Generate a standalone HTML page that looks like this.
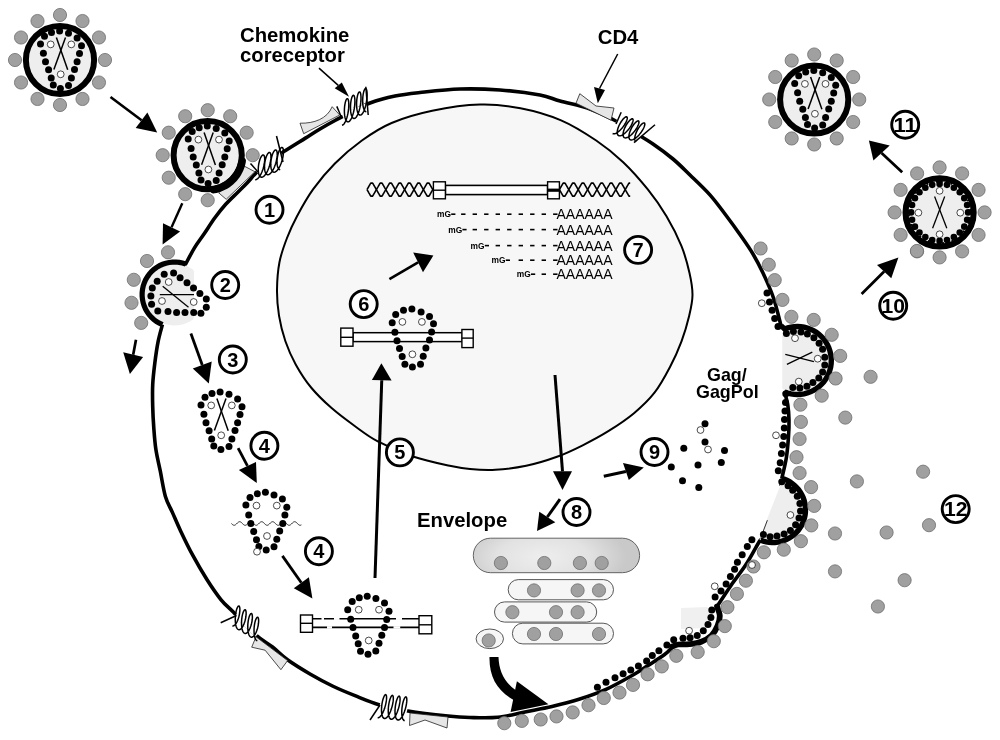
<!DOCTYPE html>
<html><head><meta charset="utf-8"><style>
html,body{margin:0;padding:0;background:#fff;}
svg{display:block;font-family:"Liberation Sans",sans-serif;filter:grayscale(1);}
</style></head><body>
<svg width="1000" height="740" viewBox="0 0 1000 740">
<rect width="1000" height="740" fill="#fff"/>
<path d="M480,104.6 C494.72,104.17 506.98,105.58 520.5,108.2 C534.02,110.82 548.48,114.92 561.1,120.3 C573.72,125.68 585.85,133.52 596.2,140.5 C606.55,147.48 614.63,154.08 623.2,162.2 C631.77,170.32 640.38,180.2 647.6,189.2 C654.82,198.2 660.87,206.75 666.5,216.2 C672.13,225.65 677.57,236.43 681.4,245.9 C685.23,255.37 687.65,264.82 689.5,273 C691.35,281.18 692.55,287.88 692.5,295 C692.45,302.12 691.03,307.98 689.2,315.7 C687.37,323.42 684.7,332.75 681.5,341.3 C678.3,349.85 674.5,358.43 670,367 C665.5,375.57 660.5,385 654.5,392.7 C648.5,400.4 641.7,406.78 634,413.2 C626.3,419.62 616.85,425.85 608.3,431.2 C599.75,436.55 591.25,441.03 582.7,445.3 C574.15,449.57 566.42,453.38 557,456.8 C547.58,460.22 536.47,463.65 526.2,465.8 C515.93,467.95 504.77,469.17 495.4,469.7 C486.03,470.23 477.62,469.65 470,469 C462.38,468.35 459.08,467.83 449.7,465.8 C440.32,463.77 425.68,460.87 413.7,456.8 C401.72,452.73 387.63,446.53 377.8,441.4 C367.97,436.27 362.4,431.55 354.7,426 C347,420.45 338.87,414.52 331.6,408.1 C324.33,401.68 317.08,394.78 311.1,387.5 C305.12,380.22 299.98,372.1 295.7,364.4 C291.42,356.7 288.18,349.42 285.4,341.3 C282.62,333.18 280.4,324.25 279,315.7 C277.6,307.15 276.92,298.95 277,290 C277.08,281.05 277.83,270.67 279.5,262 C281.17,253.33 284.08,245.63 287,238 C289.92,230.37 292.63,224.33 297,216.2 C301.37,208.07 306.88,197.98 313.2,189.2 C319.52,180.42 326.78,171.62 334.9,163.5 C343.02,155.38 352.45,147.25 361.9,140.5 C371.35,133.75 379.88,127.95 391.6,123 C403.32,118.05 417.47,113.87 432.2,110.8 C446.93,107.73 465.28,105.03 480,104.6Z" fill="#f7f7f7" stroke="#000" stroke-width="2"/>
<path d="M782.28,332.25 L787.32,330.1 L792.66,328.84 L798.14,328.51 L803.59,329.12 L808.85,330.66 L813.78,333.07 L818.22,336.29 L822.05,340.22 L825.15,344.74 L827.43,349.73 L828.83,355.03 L829.3,360.5 L828.83,365.97 L827.43,371.27 L825.15,376.26 L822.05,380.78 L818.22,384.71 L813.78,387.93 L808.85,390.34 L803.59,391.88 L798.14,392.49 L792.66,392.16 L787.32,390.9 L782.28,388.75 Z" fill="#eeeeee"/>
<path d="M782.38,480.32 L786.29,481.89 L789.95,483.97 L793.29,486.54 L796.26,489.53 L798.79,492.9 L800.84,496.58 L802.37,500.5 L803.36,504.59 L803.78,508.79 L803.63,513 L802.92,517.15 L801.64,521.16 L799.84,524.97 L797.53,528.49 L794.77,531.67 L791.6,534.45 L788.08,536.77 L784.29,538.59 L780.28,539.88 L776.13,540.62 L771.92,540.79 L767.73,540.38 L763.63,539.41 L759.7,537.9 Z" fill="#eeeeee"/>
<path d="M681,608 L707,607 L714,614 L708,628 L681,629 Z" fill="#f0f0f0"/>
<path d="M194,294.5 L194,297.74 L194,300.95 L194,304.08 L194,307.11 L194,310 L194,312.72 L194,315.24 L194,317.54 L192.82,319.58 L190.1,321.35 L187.21,322.82 L184.18,323.98 L181.05,324.82 L177.84,325.33 L174.6,325.5 L171.36,325.33 L168.15,324.82 L165.02,323.98 L161.99,322.82 L159.1,321.35 L156.38,319.58 L153.86,317.54 L151.56,315.24 L149.52,312.72 L147.75,310 L146.28,307.11 L145.12,304.08 L144.28,300.95 L143.77,297.74 L143.6,294.5 L143.77,291.26 L144.28,288.05 L145.12,284.92 L146.28,281.89 L147.75,279 L149.52,276.28 L151.56,273.76 L153.86,271.46 L156.38,269.42 L159.1,267.65 L161.99,266.18 L165.02,265.02 L168.15,264.18 L171.36,263.67 L174.6,263.5 L177.84,263.67 L181.05,264.18 L184.18,265.02 L187.21,266.18 L190.1,267.65 L192.82,269.42 L194,271.46 L194,273.76 L194,276.28 L194,279 L194,281.89 L194,284.92 L194,288.05 L194,291.26 L194,294.5 Z" fill="#eeeeee"/>
<path d="M185.72,263.96 C187.2,261.23 191.55,252.59 194.6,247.6 C197.65,242.61 200.62,238.97 204,234 C207.38,229.03 211.28,222.75 214.9,217.8 C218.52,212.85 221.88,208.57 225.7,204.3 C229.52,200.03 234.2,195.8 237.8,192.2 C241.4,188.6 244.1,186.07 247.3,182.7 C250.5,179.33 253.22,175.62 257,172 C260.78,168.38 265.53,164.4 270,161 C274.47,157.6 277.9,155.42 283.8,151.6 C289.7,147.78 299.37,141.87 305.4,138.1 C311.43,134.33 315.07,131.93 320,129 C324.93,126.07 329.67,123.33 335,120.5 C340.33,117.67 346.17,114.92 352,112 C357.83,109.08 362.83,105.67 370,103 C377.17,100.33 386.67,97.75 395,96 C403.33,94.25 409.17,93.67 420,92.5 C430.83,91.33 446.67,89.42 460,89 C473.33,88.58 486.67,89 500,90 C513.33,91 530,93.17 540,95 C550,96.83 551.67,98.67 560,101 C568.33,103.33 581,105.83 590,109 C599,112.17 607,116.33 614,120 C621,123.67 625.5,127 632,131 C638.5,135 646.17,139.33 653,144 C659.83,148.67 666.83,153.83 673,159 C679.17,164.17 683.88,169.07 690,175 C696.12,180.93 703.87,188.1 709.7,194.6 C715.53,201.1 719.78,207.1 725,214 C730.22,220.9 736.33,229.33 741,236 C745.67,242.67 749.33,247.83 753,254 C756.67,260.17 759.58,265.67 763,273 C766.42,280.33 770.5,289.23 773.5,298 C776.5,306.77 779.75,321 781,325.6" fill="none" stroke="#000" stroke-width="3.6" stroke-linecap="round"/>
<path d="M784.56,392.02 C785.1,394.19 787.06,400.34 787.8,405 C788.54,409.66 788.88,414.75 789,420 C789.12,425.25 788.95,430.17 788.5,436.5 C788.05,442.83 787.41,451.02 786.3,458 C785.19,464.98 782.56,474.97 781.81,478.37" fill="none" stroke="#000" stroke-width="3.6"/>
<path d="M760.55,540.12 C760.29,540.43 761.43,537.92 759,542 C756.57,546.08 750.67,557.37 746,564.6 C741.33,571.83 735.83,578.42 731,585.4 C726.17,592.38 719.33,602.98 717,606.5" fill="none" stroke="#000" stroke-width="3.6"/>
<path d="M717,606.5 C717.47,608.08 719.72,612.75 719.8,616 C719.88,619.25 718.88,622.75 717.5,626 C716.12,629.25 714.2,632.88 711.5,635.5 C708.8,638.12 705.02,640.27 701.3,641.7 C697.58,643.13 693.05,643.63 689.2,644.1 C685.35,644.57 681.03,644.08 678.2,644.5 C675.37,644.92 673.2,646.25 672.2,646.6" fill="none" stroke="#000" stroke-width="5.8" stroke-linecap="round"/>
<path d="M672,647.5 C670.77,648.67 668.67,651.45 664.6,654.5 C660.53,657.55 652.87,662.38 647.6,665.8 C642.33,669.22 639.93,671.07 633,675 C626.07,678.93 615,685.35 606,689.4 C597,693.45 588,696.45 579,699.3 C570,702.15 561,704.4 552,706.5 C543,708.6 534,710.1 525,711.9 C516,713.7 507.17,716.37 498,717.3 C488.83,718.23 478.33,717.72 470,717.5 C461.67,717.28 458.33,717.08 448,716 C437.67,714.92 419.5,712.88 408,711 C396.5,709.12 387.83,707.25 379,704.7 C370.17,702.15 362.75,698.82 355,695.7 C347.25,692.58 340,689.62 332.5,686 C325,682.38 317.5,678.37 310,674 C302.5,669.63 293.75,664.3 287.5,659.8 C281.25,655.3 277.75,651.13 272.5,647 C267.25,642.87 262.53,640.83 256,635 C249.47,629.17 239.12,617.87 233.3,612 C227.48,606.13 225.5,605.22 221.1,599.8 C216.7,594.38 211.63,586.93 206.9,579.5 C202.17,572.07 197.08,563.3 192.7,555.2 C188.32,547.1 183.97,538 180.6,530.9 C177.23,523.8 175.03,518.35 172.5,512.6 C169.97,506.85 167.43,503.3 165.4,496.4 C163.37,489.5 161.88,479 160.3,471.2 C158.72,463.4 156.98,456.8 155.9,449.6 C154.82,442.4 154.33,435.2 153.8,428 C153.27,420.8 152.88,413.6 152.7,406.4 C152.52,399.2 152.35,392 152.7,384.8 C153.05,377.6 153.9,370.4 154.8,363.2 C155.7,356 156.83,348.03 158.1,341.6 C159.37,335.17 161.7,327.46 162.43,324.63" fill="none" stroke="#000" stroke-width="3.6"/>
<line x1="779.5" y1="485.7" x2="783" y2="476.5" stroke="#000" stroke-width="0.8" />
<line x1="767.4" y1="520.2" x2="762.2" y2="534" stroke="#000" stroke-width="0.8" />
<path d="M781,325.6 L784.56,328.98 784.56,328.98 L787.7,327.88 L790.93,327.1 L794.22,326.64 L797.54,326.5 L800.85,326.69 L804.14,327.19 L807.35,328.02 L810.48,329.16 L813.47,330.59 L816.31,332.31 L818.97,334.3 L821.43,336.54 L823.65,339.01 L825.62,341.68 L827.32,344.54 L828.73,347.54 L829.85,350.67 L830.65,353.9 L831.14,357.18 L831.3,360.5 L831.14,363.82 L830.65,367.1 L829.85,370.33 L828.73,373.46 L827.32,376.46 L825.62,379.32 L823.65,381.99 L821.43,384.46 L818.97,386.7 L816.31,388.69 L813.47,390.41 L810.48,391.84 L807.35,392.98 L804.14,393.81 L800.85,394.31 L797.54,394.5 L794.22,394.36 L790.93,393.9 L787.7,393.12 L784.56,392.02" fill="none" stroke="#000" stroke-width="5.4"/>
<path d="M781.81,478.37 L784.61,479.31 L787.31,480.49 L789.89,481.92 L792.33,483.57 L794.61,485.44 L796.72,487.5 L798.63,489.74 L800.33,492.15 L801.81,494.7 L803.05,497.37 L804.04,500.15 L804.79,503 L805.27,505.91 L805.49,508.85 L805.44,511.8 L805.13,514.73 L804.55,517.62 L803.72,520.45 L802.63,523.19 L801.31,525.82 L799.75,528.32 L797.97,530.67 L795.99,532.86 L793.82,534.85 L791.48,536.64 L788.98,538.21 L786.36,539.56 L783.63,540.66 L780.8,541.51 L777.92,542.1 L774.99,542.43 L772.04,542.49 L769.1,542.29 L766.19,541.82 L763.33,541.1 L760.55,540.12" fill="none" stroke="#000" stroke-width="5.4"/>
<path d="M185.72,263.96 L182.5,262.97 L179.2,262.33 L175.85,262.02 L172.48,262.07 L169.14,262.46 L165.86,263.2 L162.67,264.27 L159.61,265.66 L156.71,267.37 L154,269.36 L151.51,271.63 L149.27,274.14 L147.3,276.86 L145.63,279.78 L144.26,282.85 L143.22,286.05 L142.51,289.34 L142.15,292.69 L142.14,296.05 L142.47,299.4 L143.15,302.69 L144.16,305.9 L145.51,308.98 L147.16,311.91 L149.11,314.66 L151.33,317.18 L153.8,319.47 L156.49,321.49 L159.38,323.21 L162.43,324.63" fill="none" stroke="#000" stroke-width="5.2"/>
<polygon points="244.6,166.3 254.9,171.7 226.2,199.3 218.7,192.8 233,181" fill="#e6e6e6" stroke="#222" stroke-width="0.8"/>
<path d="M300,123.2 C314,123.5 327,119 332.2,106.7 L339.7,115 L303.7,133.7 Z" fill="#e6e6e6" stroke="#222" stroke-width="0.8"/>
<polygon points="576,103.2 579.8,93.7 596,106 614,108 611,120.2" fill="#e6e6e6" stroke="#222" stroke-width="0.8"/>
<polygon points="256,636.8 251.7,647.2 265.1,650.2 280.9,669.7 287.6,660.6" fill="#e6e6e6" stroke="#222" stroke-width="0.8"/>
<polygon points="410,713 409.5,725.5 425,720 447,728 448,717" fill="#e6e6e6" stroke="#222" stroke-width="0.8"/>
<line x1="257" y1="172" x2="281" y2="153" stroke="#fff" stroke-width="6"/>
<path d="M255.21,179.7 L255.87,179.66 L256.57,179.42 L257.29,178.98 L258.03,178.35 L258.77,177.54 L259.51,176.56 L260.23,175.43 L260.92,174.16 L261.58,172.79 L262.19,171.32 L262.75,169.79 L263.25,168.21 L263.69,166.62 L264.05,165.04 L264.33,163.5 L264.54,162.03 L264.67,160.64 L264.71,159.36 L264.68,158.21 L264.58,157.22 L264.4,156.38 L264.15,155.73 L263.85,155.27 L263.49,155.01 L263.09,154.94 L262.65,155.08 L262.19,155.41 L261.71,155.94 L261.23,156.65 L260.75,157.52 L260.29,158.55 L259.86,159.71 L259.46,160.98 L259.11,162.34 L258.81,163.77 L258.57,165.24 L258.39,166.73 L258.29,168.2 L258.27,169.64 L258.32,171.01 L258.45,172.29 L258.67,173.47 L258.96,174.51 L259.33,175.4 L259.77,176.13 L260.27,176.68 L260.84,177.04 L261.46,177.2 L262.12,177.16 L262.82,176.92 L263.54,176.48 L264.28,175.85 L265.02,175.04 L265.76,174.06 L266.48,172.93 L267.17,171.66 L267.83,170.29 L268.44,168.82 L269,167.29 L269.5,165.71 L269.94,164.12 L270.3,162.54 L270.58,161 L270.79,159.53 L270.92,158.14 L270.96,156.86 L270.93,155.71 L270.83,154.72 L270.65,153.88 L270.4,153.23 L270.1,152.77 L269.74,152.51 L269.34,152.44 L268.9,152.58 L268.44,152.91 L267.96,153.44 L267.48,154.15 L267,155.02 L266.54,156.05 L266.11,157.21 L265.71,158.48 L265.36,159.84 L265.06,161.27 L264.82,162.74 L264.64,164.23 L264.54,165.7 L264.52,167.14 L264.57,168.51 L264.7,169.79 L264.92,170.97 L265.21,172.01 L265.58,172.9 L266.02,173.63 L266.52,174.18 L267.09,174.54 L267.71,174.7 L268.37,174.66 L269.07,174.42 L269.79,173.98 L270.53,173.35 L271.27,172.54 L272.01,171.56 L272.73,170.43 L273.42,169.16 L274.08,167.79 L274.69,166.32 L275.25,164.79 L275.75,163.21 L276.19,161.62 L276.55,160.04 L276.83,158.5 L277.04,157.03 L277.17,155.64 L277.21,154.36 L277.18,153.21 L277.08,152.22 L276.9,151.38 L276.65,150.73 L276.35,150.27 L275.99,150.01 L275.59,149.94 L275.15,150.08 L274.69,150.41 L274.21,150.94 L273.73,151.65 L273.25,152.52 L272.79,153.55 L272.36,154.71 L271.96,155.98 L271.61,157.34 L271.31,158.77 L271.07,160.24 L270.89,161.73 L270.79,163.2 L270.77,164.64 L270.82,166.01 L270.95,167.29 L271.17,168.47 L271.46,169.51 L271.83,170.4 L272.27,171.13 L272.77,171.68 L273.34,172.04 L273.96,172.2 L274.62,172.16 L275.32,171.92 L276.04,171.48 L276.78,170.85 L277.52,170.04 L278.26,169.06 L278.98,167.93 L279.67,166.66 L280.33,165.29 L280.94,163.82 L281.5,162.29 L282,160.71 L282.44,159.12 L282.8,157.54 L283.08,156 L283.29,154.53 L283.42,153.14 L283.46,151.86 L283.43,150.71 L283.33,149.72 L283.15,148.88 L282.9,148.23 L282.6,147.77 L282.24,147.51 L281.84,147.44 L281.4,147.58 L280.94,147.91 L280.46,148.44 L279.98,149.15 L279.5,150.02 L279.04,151.05 L278.61,152.21 L278.21,153.48 L277.86,154.84 L277.56,156.27 L277.32,157.74 L277.14,159.23 L277.04,160.7 L277.02,162.14 L277.07,163.51 L277.2,164.79 L277.42,165.97 L277.71,167.01 L278.08,167.9 L278.52,168.63 L279.02,169.18 L279.59,169.54 L280.21,169.7" fill="none" stroke="#000" stroke-width="1.5" stroke-linejoin="round"/>
<line x1="250.5" y1="163.5" x2="258" y2="172" stroke="#000" stroke-width="1.5" />
<line x1="276.5" y1="136" x2="283" y2="162" stroke="#000" stroke-width="1.5" />
<line x1="343" y1="117" x2="367" y2="106" stroke="#fff" stroke-width="6"/>
<path d="M341.96,125.24 L342.54,125.11 L343.13,124.76 L343.73,124.21 L344.32,123.46 L344.91,122.52 L345.48,121.41 L346.02,120.15 L346.52,118.75 L346.99,117.24 L347.42,115.64 L347.79,113.99 L348.11,112.29 L348.37,110.6 L348.57,108.92 L348.71,107.3 L348.79,105.75 L348.8,104.3 L348.76,102.98 L348.66,101.8 L348.51,100.79 L348.31,99.96 L348.07,99.33 L347.8,98.9 L347.49,98.67 L347.17,98.67 L346.83,98.87 L346.49,99.28 L346.14,99.89 L345.81,100.69 L345.5,101.66 L345.21,102.78 L344.96,104.04 L344.74,105.41 L344.57,106.86 L344.46,108.38 L344.39,109.93 L344.39,111.49 L344.44,113.02 L344.55,114.51 L344.73,115.91 L344.97,117.22 L345.27,118.4 L345.62,119.44 L346.02,120.31 L346.47,121 L346.97,121.49 L347.5,121.78 L348.06,121.86 L348.64,121.73 L349.23,121.39 L349.83,120.83 L350.42,120.08 L351.01,119.15 L351.58,118.04 L352.12,116.77 L352.62,115.37 L353.09,113.86 L353.52,112.27 L353.89,110.61 L354.21,108.92 L354.47,107.22 L354.67,105.55 L354.81,103.92 L354.89,102.37 L354.9,100.93 L354.86,99.6 L354.76,98.43 L354.61,97.42 L354.41,96.59 L354.17,95.95 L353.9,95.52 L353.59,95.3 L353.27,95.29 L352.93,95.5 L352.59,95.91 L352.24,96.52 L351.91,97.31 L351.6,98.28 L351.31,99.41 L351.06,100.66 L350.84,102.03 L350.67,103.49 L350.56,105.01 L350.49,106.56 L350.49,108.11 L350.54,109.65 L350.65,111.13 L350.83,112.54 L351.07,113.85 L351.37,115.03 L351.72,116.06 L352.12,116.93 L352.57,117.62 L353.07,118.12 L353.6,118.41 L354.16,118.49 L354.74,118.36 L355.33,118.01 L355.93,117.46 L356.52,116.71 L357.11,115.77 L357.68,114.66 L358.22,113.4 L358.72,112 L359.19,110.49 L359.62,108.89 L359.99,107.24 L360.31,105.54 L360.57,103.85 L360.77,102.17 L360.91,100.55 L360.99,99 L361,97.55 L360.96,96.23 L360.86,95.05 L360.71,94.04 L360.51,93.21 L360.27,92.58 L360,92.15 L359.69,91.92 L359.37,91.92 L359.03,92.12 L358.69,92.53 L358.34,93.14 L358.01,93.94 L357.7,94.91 L357.41,96.03 L357.16,97.29 L356.94,98.66 L356.77,100.11 L356.66,101.63 L356.59,103.18 L356.59,104.74 L356.64,106.27 L356.75,107.76 L356.93,109.16 L357.17,110.47 L357.47,111.65 L357.82,112.69 L358.22,113.56 L358.67,114.25 L359.17,114.74 L359.7,115.03 L360.26,115.11 L360.84,114.98 L361.43,114.64 L362.03,114.08 L362.62,113.33 L363.21,112.4 L363.78,111.29 L364.32,110.02 L364.82,108.62 L365.29,107.11 L365.72,105.52 L366.09,103.86 L366.41,102.17 L366.67,100.47 L366.87,98.8 L367.01,97.17 L367.09,95.62 L367.1,94.18 L367.06,92.85 L366.96,91.68 L366.81,90.67 L366.61,89.84 L366.37,89.2 L366.1,88.77 L365.79,88.55 L365.47,88.54 L365.13,88.75 L364.79,89.16 L364.44,89.77 L364.11,90.56 L363.8,91.53 L363.51,92.66 L363.26,93.91 L363.04,95.28 L362.87,96.74 L362.76,98.26 L362.69,99.81 L362.69,101.36 L362.74,102.9 L362.85,104.38 L363.03,105.79 L363.27,107.1 L363.57,108.28 L363.92,109.31 L364.32,110.18 L364.77,110.87 L365.27,111.37 L365.8,111.66 L366.36,111.74" fill="none" stroke="#000" stroke-width="1.5" stroke-linejoin="round"/>
<line x1="336.8" y1="106.4" x2="341.1" y2="116.5" stroke="#000" stroke-width="1.5" />
<line x1="365.8" y1="86.8" x2="368.2" y2="115" stroke="#000" stroke-width="1.5" />
<line x1="616" y1="122" x2="641" y2="137" stroke="#fff" stroke-width="6"/>
<path d="M612.62,133.53 L613.19,133.75 L613.84,133.82 L614.58,133.73 L615.38,133.49 L616.25,133.11 L617.16,132.58 L618.1,131.92 L619.06,131.14 L620.02,130.26 L620.97,129.29 L621.9,128.25 L622.79,127.16 L623.63,126.03 L624.4,124.89 L625.1,123.76 L625.71,122.65 L626.23,121.59 L626.65,120.6 L626.96,119.69 L627.17,118.88 L627.26,118.18 L627.25,117.61 L627.13,117.18 L626.9,116.89 L626.58,116.76 L626.17,116.78 L625.68,116.95 L625.12,117.27 L624.5,117.75 L623.83,118.36 L623.13,119.1 L622.42,119.96 L621.7,120.93 L620.99,121.99 L620.3,123.11 L619.66,124.29 L619.07,125.5 L618.54,126.73 L618.08,127.95 L617.71,129.14 L617.44,130.28 L617.26,131.36 L617.19,132.36 L617.23,133.25 L617.38,134.04 L617.64,134.69 L618,135.21 L618.47,135.58 L619.04,135.8 L619.69,135.87 L620.43,135.78 L621.23,135.54 L622.1,135.16 L623.01,134.63 L623.95,133.97 L624.91,133.19 L625.87,132.31 L626.82,131.34 L627.75,130.3 L628.64,129.21 L629.48,128.08 L630.25,126.94 L630.95,125.81 L631.56,124.7 L632.08,123.64 L632.5,122.65 L632.81,121.74 L633.02,120.93 L633.11,120.23 L633.1,119.66 L632.98,119.23 L632.75,118.94 L632.43,118.81 L632.02,118.83 L631.53,119 L630.97,119.32 L630.35,119.8 L629.68,120.41 L628.98,121.15 L628.27,122.01 L627.55,122.98 L626.84,124.04 L626.15,125.16 L625.51,126.34 L624.92,127.55 L624.39,128.78 L623.93,130 L623.56,131.19 L623.29,132.33 L623.11,133.41 L623.04,134.41 L623.08,135.3 L623.23,136.09 L623.49,136.74 L623.85,137.26 L624.32,137.63 L624.89,137.85 L625.54,137.92 L626.28,137.83 L627.08,137.59 L627.95,137.21 L628.86,136.68 L629.8,136.02 L630.76,135.24 L631.72,134.36 L632.67,133.39 L633.6,132.35 L634.49,131.26 L635.33,130.13 L636.1,128.99 L636.8,127.86 L637.41,126.75 L637.93,125.69 L638.35,124.7 L638.66,123.79 L638.87,122.98 L638.96,122.28 L638.95,121.71 L638.83,121.28 L638.6,120.99 L638.28,120.86 L637.87,120.88 L637.38,121.05 L636.82,121.37 L636.2,121.85 L635.53,122.46 L634.83,123.2 L634.12,124.06 L633.4,125.03 L632.69,126.09 L632,127.21 L631.36,128.39 L630.77,129.6 L630.24,130.83 L629.78,132.05 L629.41,133.24 L629.14,134.38 L628.96,135.46 L628.89,136.46 L628.93,137.35 L629.08,138.14 L629.34,138.79 L629.7,139.31 L630.17,139.68 L630.74,139.9 L631.39,139.97 L632.13,139.88 L632.93,139.64 L633.8,139.26 L634.71,138.73 L635.65,138.07 L636.61,137.29 L637.57,136.41 L638.52,135.44 L639.45,134.4 L640.34,133.31 L641.18,132.18 L641.95,131.04 L642.65,129.91 L643.26,128.8 L643.78,127.74 L644.2,126.75 L644.51,125.84 L644.72,125.03 L644.81,124.33 L644.8,123.76 L644.68,123.33 L644.45,123.04 L644.13,122.91 L643.72,122.93 L643.23,123.1 L642.67,123.42 L642.05,123.9 L641.38,124.51 L640.68,125.25 L639.97,126.11 L639.25,127.08 L638.54,128.14 L637.85,129.26 L637.21,130.44 L636.62,131.65 L636.09,132.88 L635.63,134.1 L635.26,135.29 L634.99,136.43 L634.81,137.51 L634.74,138.51 L634.78,139.4 L634.93,140.19 L635.19,140.84 L635.55,141.36 L636.02,141.73" fill="none" stroke="#000" stroke-width="1.5" stroke-linejoin="round"/>
<line x1="621.2" y1="112.2" x2="616" y2="124" stroke="#000" stroke-width="1.5" />
<line x1="655" y1="124.7" x2="634" y2="142.6" stroke="#000" stroke-width="1.5" />
<line x1="236" y1="614" x2="257" y2="635" stroke="#fff" stroke-width="6"/>
<path d="M232.37,625.88 L232.95,625.93 L233.55,625.79 L234.17,625.48 L234.79,624.99 L235.4,624.33 L236,623.52 L236.59,622.57 L237.14,621.5 L237.65,620.33 L238.13,619.08 L238.55,617.78 L238.92,616.44 L239.24,615.1 L239.49,613.77 L239.68,612.47 L239.81,611.25 L239.87,610.11 L239.88,609.07 L239.82,608.16 L239.7,607.39 L239.53,606.78 L239.31,606.34 L239.05,606.08 L238.76,606 L238.43,606.1 L238.09,606.39 L237.74,606.87 L237.38,607.51 L237.02,608.33 L236.68,609.29 L236.36,610.4 L236.07,611.62 L235.81,612.95 L235.6,614.35 L235.44,615.81 L235.33,617.31 L235.27,618.81 L235.28,620.3 L235.35,621.74 L235.48,623.13 L235.68,624.43 L235.94,625.62 L236.26,626.68 L236.63,627.61 L237.07,628.37 L237.54,628.97 L238.06,629.39 L238.62,629.63 L239.2,629.68 L239.8,629.54 L240.42,629.23 L241.04,628.74 L241.65,628.08 L242.25,627.27 L242.84,626.32 L243.39,625.25 L243.9,624.08 L244.38,622.83 L244.8,621.53 L245.17,620.19 L245.49,618.85 L245.74,617.52 L245.93,616.22 L246.06,615 L246.12,613.86 L246.13,612.82 L246.07,611.91 L245.95,611.14 L245.78,610.53 L245.56,610.09 L245.3,609.83 L245.01,609.75 L244.68,609.85 L244.34,610.14 L243.99,610.62 L243.63,611.26 L243.27,612.08 L242.93,613.04 L242.61,614.15 L242.32,615.37 L242.06,616.7 L241.85,618.1 L241.69,619.56 L241.58,621.06 L241.52,622.56 L241.53,624.05 L241.6,625.49 L241.73,626.88 L241.93,628.18 L242.19,629.37 L242.51,630.43 L242.88,631.36 L243.32,632.12 L243.79,632.72 L244.31,633.14 L244.87,633.38 L245.45,633.43 L246.05,633.29 L246.67,632.98 L247.29,632.49 L247.9,631.83 L248.5,631.02 L249.09,630.07 L249.64,629 L250.15,627.83 L250.63,626.58 L251.05,625.28 L251.42,623.94 L251.74,622.6 L251.99,621.27 L252.18,619.97 L252.31,618.75 L252.37,617.61 L252.38,616.57 L252.32,615.66 L252.2,614.89 L252.03,614.28 L251.81,613.84 L251.55,613.58 L251.26,613.5 L250.93,613.6 L250.59,613.89 L250.24,614.37 L249.88,615.01 L249.52,615.83 L249.18,616.79 L248.86,617.9 L248.57,619.12 L248.31,620.45 L248.1,621.85 L247.94,623.31 L247.83,624.81 L247.77,626.31 L247.78,627.8 L247.85,629.24 L247.98,630.63 L248.18,631.93 L248.44,633.12 L248.76,634.18 L249.13,635.11 L249.57,635.87 L250.04,636.47 L250.56,636.89 L251.12,637.13 L251.7,637.18 L252.3,637.04 L252.92,636.73 L253.54,636.24 L254.15,635.58 L254.75,634.77 L255.34,633.82 L255.89,632.75 L256.4,631.58 L256.88,630.33 L257.3,629.03 L257.67,627.69 L257.99,626.35 L258.24,625.02 L258.43,623.72 L258.56,622.5 L258.62,621.36 L258.63,620.32 L258.57,619.41 L258.45,618.64 L258.28,618.03 L258.06,617.59 L257.8,617.33 L257.51,617.25 L257.18,617.35 L256.84,617.64 L256.49,618.12 L256.13,618.76 L255.77,619.58 L255.43,620.54 L255.11,621.65 L254.82,622.87 L254.56,624.2 L254.35,625.6 L254.19,627.06 L254.08,628.56 L254.02,630.06 L254.03,631.55 L254.1,632.99 L254.23,634.38 L254.43,635.68 L254.69,636.87 L255.01,637.93 L255.38,638.86 L255.82,639.62 L256.29,640.22 L256.81,640.64 L257.37,640.88" fill="none" stroke="#000" stroke-width="1.5" stroke-linejoin="round"/>
<line x1="220.7" y1="622.8" x2="236.5" y2="615.5" stroke="#000" stroke-width="1.5" />
<line x1="380" y1="704" x2="407" y2="711" stroke="#fff" stroke-width="6"/>
<path d="M377.65,717.77 L378.24,717.77 L378.87,717.57 L379.52,717.17 L380.19,716.59 L380.87,715.82 L381.54,714.89 L382.2,713.8 L382.84,712.59 L383.45,711.26 L384.02,709.85 L384.55,708.37 L385.02,706.85 L385.44,705.33 L385.8,703.82 L386.09,702.35 L386.31,700.94 L386.47,699.63 L386.55,698.43 L386.57,697.37 L386.52,696.46 L386.4,695.71 L386.23,695.15 L386,694.78 L385.73,694.61 L385.41,694.64 L385.07,694.87 L384.7,695.3 L384.31,695.91 L383.92,696.71 L383.53,697.68 L383.15,698.79 L382.79,700.04 L382.46,701.4 L382.17,702.84 L381.92,704.35 L381.73,705.9 L381.59,707.45 L381.51,709 L381.5,710.5 L381.56,711.93 L381.69,713.27 L381.88,714.51 L382.15,715.6 L382.48,716.54 L382.88,717.32 L383.33,717.91 L383.84,718.31 L384.4,718.52 L384.99,718.52 L385.62,718.32 L386.27,717.92 L386.94,717.34 L387.62,716.57 L388.29,715.64 L388.95,714.55 L389.59,713.34 L390.2,712.01 L390.77,710.6 L391.3,709.12 L391.77,707.6 L392.19,706.08 L392.55,704.57 L392.84,703.1 L393.06,701.69 L393.22,700.38 L393.3,699.18 L393.32,698.12 L393.27,697.21 L393.15,696.46 L392.98,695.9 L392.75,695.53 L392.48,695.36 L392.16,695.39 L391.82,695.62 L391.45,696.05 L391.06,696.66 L390.67,697.46 L390.28,698.43 L389.9,699.54 L389.54,700.79 L389.21,702.15 L388.92,703.59 L388.67,705.1 L388.48,706.65 L388.34,708.2 L388.26,709.75 L388.25,711.25 L388.31,712.68 L388.44,714.02 L388.63,715.26 L388.9,716.35 L389.23,717.29 L389.63,718.07 L390.08,718.66 L390.59,719.06 L391.15,719.27 L391.74,719.27 L392.37,719.07 L393.02,718.67 L393.69,718.09 L394.37,717.32 L395.04,716.39 L395.7,715.3 L396.34,714.09 L396.95,712.76 L397.52,711.35 L398.05,709.87 L398.52,708.35 L398.94,706.83 L399.3,705.32 L399.59,703.85 L399.81,702.44 L399.97,701.13 L400.05,699.93 L400.07,698.87 L400.02,697.96 L399.9,697.21 L399.73,696.65 L399.5,696.28 L399.23,696.11 L398.91,696.14 L398.57,696.37 L398.2,696.8 L397.81,697.41 L397.42,698.21 L397.03,699.18 L396.65,700.29 L396.29,701.54 L395.96,702.9 L395.67,704.34 L395.42,705.85 L395.23,707.4 L395.09,708.95 L395.01,710.5 L395,712 L395.06,713.43 L395.19,714.77 L395.38,716.01 L395.65,717.1 L395.98,718.04 L396.38,718.82 L396.83,719.41 L397.34,719.81 L397.9,720.02 L398.49,720.02 L399.12,719.82 L399.77,719.42 L400.44,718.84 L401.12,718.07 L401.79,717.14 L402.45,716.05 L403.09,714.84 L403.7,713.51 L404.27,712.1 L404.8,710.62 L405.27,709.1 L405.69,707.58 L406.05,706.07 L406.34,704.6 L406.56,703.19 L406.72,701.88 L406.8,700.68 L406.82,699.62 L406.77,698.71 L406.65,697.96 L406.48,697.4 L406.25,697.03 L405.98,696.86 L405.66,696.89 L405.32,697.12 L404.95,697.55 L404.56,698.16 L404.17,698.96 L403.78,699.93 L403.4,701.04 L403.04,702.29 L402.71,703.65 L402.42,705.09 L402.17,706.6 L401.98,708.15 L401.84,709.7 L401.76,711.25 L401.75,712.75 L401.81,714.18 L401.94,715.52 L402.13,716.76 L402.4,717.85 L402.73,718.79 L403.13,719.57 L403.58,720.16 L404.09,720.56 L404.65,720.77" fill="none" stroke="#000" stroke-width="1.5" stroke-linejoin="round"/>
<line x1="370" y1="720" x2="380" y2="705" stroke="#000" stroke-width="1.5" />
<circle cx="60" cy="15" r="6.6" fill="#a0a0a0" stroke="#6e6e6e" stroke-width="0.8"/>
<circle cx="82.5" cy="21.03" r="6.6" fill="#a0a0a0" stroke="#6e6e6e" stroke-width="0.8"/>
<circle cx="98.97" cy="37.5" r="6.6" fill="#a0a0a0" stroke="#6e6e6e" stroke-width="0.8"/>
<circle cx="105" cy="60" r="6.6" fill="#a0a0a0" stroke="#6e6e6e" stroke-width="0.8"/>
<circle cx="98.97" cy="82.5" r="6.6" fill="#a0a0a0" stroke="#6e6e6e" stroke-width="0.8"/>
<circle cx="82.5" cy="98.97" r="6.6" fill="#a0a0a0" stroke="#6e6e6e" stroke-width="0.8"/>
<circle cx="60" cy="105" r="6.6" fill="#a0a0a0" stroke="#6e6e6e" stroke-width="0.8"/>
<circle cx="37.5" cy="98.97" r="6.6" fill="#a0a0a0" stroke="#6e6e6e" stroke-width="0.8"/>
<circle cx="21.03" cy="82.5" r="6.6" fill="#a0a0a0" stroke="#6e6e6e" stroke-width="0.8"/>
<circle cx="15" cy="60" r="6.6" fill="#a0a0a0" stroke="#6e6e6e" stroke-width="0.8"/>
<circle cx="21.03" cy="37.5" r="6.6" fill="#a0a0a0" stroke="#6e6e6e" stroke-width="0.8"/>
<circle cx="37.5" cy="21.03" r="6.6" fill="#a0a0a0" stroke="#6e6e6e" stroke-width="0.8"/>
<circle cx="60" cy="60" r="32" fill="#eeeeee"/>
<circle cx="60" cy="60" r="34.1" fill="none" stroke="#000" stroke-width="6"/>
<circle cx="51.5" cy="32.5" r="3.5"/>
<circle cx="59.6" cy="30.9" r="3.5"/>
<circle cx="68.5" cy="33.3" r="3.5"/>
<circle cx="44.5" cy="36.3" r="3.5"/>
<circle cx="77.1" cy="37.9" r="3.5"/>
<circle cx="40.5" cy="43.9" r="3.5"/>
<circle cx="81.5" cy="45.7" r="3.5"/>
<circle cx="43.4" cy="53.3" r="3.5"/>
<circle cx="79.5" cy="53.6" r="3.5"/>
<circle cx="45.5" cy="61.7" r="3.5"/>
<circle cx="77.1" cy="61.7" r="3.5"/>
<circle cx="48.6" cy="69.8" r="3.5"/>
<circle cx="74.5" cy="69.5" r="3.5"/>
<circle cx="51.2" cy="77.9" r="3.5"/>
<circle cx="71.4" cy="77.9" r="3.5"/>
<circle cx="53.3" cy="84.9" r="3.5"/>
<circle cx="68.5" cy="85.4" r="3.5"/>
<circle cx="60.4" cy="88.4" r="3.5"/>
<circle cx="50.7" cy="44.4" r="3.4" fill="#fff" stroke="#000" stroke-width="0.7"/>
<circle cx="71.3" cy="44.4" r="3.4" fill="#fff" stroke="#000" stroke-width="0.7"/>
<circle cx="60.7" cy="74.3" r="3.4" fill="#fff" stroke="#000" stroke-width="0.7"/>
<line x1="56.4" y1="37.4" x2="67.7" y2="69.8" stroke="#000" stroke-width="1.5" />
<line x1="65.5" y1="37.4" x2="53.9" y2="69.5" stroke="#000" stroke-width="1.5" />
<circle cx="207.7" cy="110.2" r="6.6" fill="#a0a0a0" stroke="#6e6e6e" stroke-width="0.8"/>
<circle cx="230.2" cy="116.23" r="6.6" fill="#a0a0a0" stroke="#6e6e6e" stroke-width="0.8"/>
<circle cx="246.67" cy="132.7" r="6.6" fill="#a0a0a0" stroke="#6e6e6e" stroke-width="0.8"/>
<circle cx="252.7" cy="155.2" r="6.6" fill="#a0a0a0" stroke="#6e6e6e" stroke-width="0.8"/>
<circle cx="207.7" cy="200.2" r="6.6" fill="#a0a0a0" stroke="#6e6e6e" stroke-width="0.8"/>
<circle cx="185.2" cy="194.17" r="6.6" fill="#a0a0a0" stroke="#6e6e6e" stroke-width="0.8"/>
<circle cx="168.73" cy="177.7" r="6.6" fill="#a0a0a0" stroke="#6e6e6e" stroke-width="0.8"/>
<circle cx="162.7" cy="155.2" r="6.6" fill="#a0a0a0" stroke="#6e6e6e" stroke-width="0.8"/>
<circle cx="168.73" cy="132.7" r="6.6" fill="#a0a0a0" stroke="#6e6e6e" stroke-width="0.8"/>
<circle cx="185.2" cy="116.23" r="6.6" fill="#a0a0a0" stroke="#6e6e6e" stroke-width="0.8"/>
<circle cx="207.7" cy="155.2" r="32" fill="#eeeeee"/>
<circle cx="207.7" cy="155.2" r="34.1" fill="none" stroke="#000" stroke-width="6"/>
<circle cx="199.2" cy="127.7" r="3.5"/>
<circle cx="207.3" cy="126.1" r="3.5"/>
<circle cx="216.2" cy="128.5" r="3.5"/>
<circle cx="192.2" cy="131.5" r="3.5"/>
<circle cx="224.8" cy="133.1" r="3.5"/>
<circle cx="188.2" cy="139.1" r="3.5"/>
<circle cx="229.2" cy="140.9" r="3.5"/>
<circle cx="191.1" cy="148.5" r="3.5"/>
<circle cx="227.2" cy="148.8" r="3.5"/>
<circle cx="193.2" cy="156.9" r="3.5"/>
<circle cx="224.8" cy="156.9" r="3.5"/>
<circle cx="196.3" cy="165" r="3.5"/>
<circle cx="222.2" cy="164.7" r="3.5"/>
<circle cx="198.9" cy="173.1" r="3.5"/>
<circle cx="219.1" cy="173.1" r="3.5"/>
<circle cx="201" cy="180.1" r="3.5"/>
<circle cx="216.2" cy="180.6" r="3.5"/>
<circle cx="208.1" cy="183.6" r="3.5"/>
<circle cx="198.4" cy="139.6" r="3.4" fill="#fff" stroke="#000" stroke-width="0.7"/>
<circle cx="219" cy="139.6" r="3.4" fill="#fff" stroke="#000" stroke-width="0.7"/>
<circle cx="208.4" cy="169.5" r="3.4" fill="#fff" stroke="#000" stroke-width="0.7"/>
<line x1="204.1" y1="132.6" x2="215.4" y2="165" stroke="#000" stroke-width="1.5" />
<line x1="213.2" y1="132.6" x2="201.6" y2="164.7" stroke="#000" stroke-width="1.5" />
<path d="M242.17,161.28 L241.73,163.37 L241.17,165.43 L240.48,167.46 L239.67,169.44 L238.75,171.36 L237.7,173.23 L236.54,175.02 L235.28,176.75 L233.91,178.39 L232.45,179.95 L230.89,181.41 L229.25,182.78 L227.52,184.04 L225.73,185.2 L223.86,186.25 L221.94,187.17 L219.96,187.98 L217.93,188.67 L215.87,189.23 L213.78,189.67" fill="none" stroke="#000" stroke-width="7.5" stroke-linecap="round"/>
<circle cx="814.2" cy="54.5" r="6.6" fill="#a0a0a0" stroke="#6e6e6e" stroke-width="0.8"/>
<circle cx="836.7" cy="60.53" r="6.6" fill="#a0a0a0" stroke="#6e6e6e" stroke-width="0.8"/>
<circle cx="853.17" cy="77" r="6.6" fill="#a0a0a0" stroke="#6e6e6e" stroke-width="0.8"/>
<circle cx="859.2" cy="99.5" r="6.6" fill="#a0a0a0" stroke="#6e6e6e" stroke-width="0.8"/>
<circle cx="853.17" cy="122" r="6.6" fill="#a0a0a0" stroke="#6e6e6e" stroke-width="0.8"/>
<circle cx="836.7" cy="138.47" r="6.6" fill="#a0a0a0" stroke="#6e6e6e" stroke-width="0.8"/>
<circle cx="814.2" cy="144.5" r="6.6" fill="#a0a0a0" stroke="#6e6e6e" stroke-width="0.8"/>
<circle cx="791.7" cy="138.47" r="6.6" fill="#a0a0a0" stroke="#6e6e6e" stroke-width="0.8"/>
<circle cx="775.23" cy="122" r="6.6" fill="#a0a0a0" stroke="#6e6e6e" stroke-width="0.8"/>
<circle cx="769.2" cy="99.5" r="6.6" fill="#a0a0a0" stroke="#6e6e6e" stroke-width="0.8"/>
<circle cx="775.23" cy="77" r="6.6" fill="#a0a0a0" stroke="#6e6e6e" stroke-width="0.8"/>
<circle cx="791.7" cy="60.53" r="6.6" fill="#a0a0a0" stroke="#6e6e6e" stroke-width="0.8"/>
<circle cx="814.2" cy="99.5" r="32" fill="#eeeeee"/>
<circle cx="814.2" cy="99.5" r="34.1" fill="none" stroke="#000" stroke-width="6"/>
<circle cx="805.7" cy="72" r="3.5"/>
<circle cx="813.8" cy="70.4" r="3.5"/>
<circle cx="822.7" cy="72.8" r="3.5"/>
<circle cx="798.7" cy="75.8" r="3.5"/>
<circle cx="831.3" cy="77.4" r="3.5"/>
<circle cx="794.7" cy="83.4" r="3.5"/>
<circle cx="835.7" cy="85.2" r="3.5"/>
<circle cx="797.6" cy="92.8" r="3.5"/>
<circle cx="833.7" cy="93.1" r="3.5"/>
<circle cx="799.7" cy="101.2" r="3.5"/>
<circle cx="831.3" cy="101.2" r="3.5"/>
<circle cx="802.8" cy="109.3" r="3.5"/>
<circle cx="828.7" cy="109" r="3.5"/>
<circle cx="805.4" cy="117.4" r="3.5"/>
<circle cx="825.6" cy="117.4" r="3.5"/>
<circle cx="807.5" cy="124.4" r="3.5"/>
<circle cx="822.7" cy="124.9" r="3.5"/>
<circle cx="814.6" cy="127.9" r="3.5"/>
<circle cx="804.9" cy="83.9" r="3.4" fill="#fff" stroke="#000" stroke-width="0.7"/>
<circle cx="825.5" cy="83.9" r="3.4" fill="#fff" stroke="#000" stroke-width="0.7"/>
<circle cx="814.9" cy="113.8" r="3.4" fill="#fff" stroke="#000" stroke-width="0.7"/>
<line x1="810.6" y1="76.9" x2="821.9" y2="109.3" stroke="#000" stroke-width="1.5" />
<line x1="819.7" y1="76.9" x2="808.1" y2="109" stroke="#000" stroke-width="1.5" />
<circle cx="939.6" cy="167.4" r="6.6" fill="#a0a0a0" stroke="#6e6e6e" stroke-width="0.8"/>
<circle cx="962.1" cy="173.43" r="6.6" fill="#a0a0a0" stroke="#6e6e6e" stroke-width="0.8"/>
<circle cx="978.57" cy="189.9" r="6.6" fill="#a0a0a0" stroke="#6e6e6e" stroke-width="0.8"/>
<circle cx="984.6" cy="212.4" r="6.6" fill="#a0a0a0" stroke="#6e6e6e" stroke-width="0.8"/>
<circle cx="978.57" cy="234.9" r="6.6" fill="#a0a0a0" stroke="#6e6e6e" stroke-width="0.8"/>
<circle cx="962.1" cy="251.37" r="6.6" fill="#a0a0a0" stroke="#6e6e6e" stroke-width="0.8"/>
<circle cx="939.6" cy="257.4" r="6.6" fill="#a0a0a0" stroke="#6e6e6e" stroke-width="0.8"/>
<circle cx="917.1" cy="251.37" r="6.6" fill="#a0a0a0" stroke="#6e6e6e" stroke-width="0.8"/>
<circle cx="900.63" cy="234.9" r="6.6" fill="#a0a0a0" stroke="#6e6e6e" stroke-width="0.8"/>
<circle cx="894.6" cy="212.4" r="6.6" fill="#a0a0a0" stroke="#6e6e6e" stroke-width="0.8"/>
<circle cx="900.63" cy="189.9" r="6.6" fill="#a0a0a0" stroke="#6e6e6e" stroke-width="0.8"/>
<circle cx="917.1" cy="173.43" r="6.6" fill="#a0a0a0" stroke="#6e6e6e" stroke-width="0.8"/>
<circle cx="939.6" cy="212.4" r="32" fill="#eeeeee"/>
<circle cx="939.6" cy="212.4" r="34.1" fill="none" stroke="#000" stroke-width="6"/>
<circle cx="939.6" cy="212.4" r="31" fill="none" stroke="#000" stroke-width="2.2" stroke-dasharray="2 2.9"/>
<circle cx="939.6" cy="183.9" r="3.3"/>
<circle cx="946.98" cy="184.87" r="3.3"/>
<circle cx="953.85" cy="187.72" r="3.3"/>
<circle cx="959.75" cy="192.25" r="3.3"/>
<circle cx="964.28" cy="198.15" r="3.3"/>
<circle cx="967.13" cy="205.02" r="3.3"/>
<circle cx="968.1" cy="212.4" r="3.3"/>
<circle cx="967.13" cy="219.78" r="3.3"/>
<circle cx="964.28" cy="226.65" r="3.3"/>
<circle cx="959.75" cy="232.55" r="3.3"/>
<circle cx="953.85" cy="237.08" r="3.3"/>
<circle cx="946.98" cy="239.93" r="3.3"/>
<circle cx="939.6" cy="240.9" r="3.3"/>
<circle cx="932.22" cy="239.93" r="3.3"/>
<circle cx="925.35" cy="237.08" r="3.3"/>
<circle cx="919.45" cy="232.55" r="3.3"/>
<circle cx="914.92" cy="226.65" r="3.3"/>
<circle cx="912.07" cy="219.78" r="3.3"/>
<circle cx="911.1" cy="212.4" r="3.3"/>
<circle cx="912.07" cy="205.02" r="3.3"/>
<circle cx="914.92" cy="198.15" r="3.3"/>
<circle cx="919.45" cy="192.25" r="3.3"/>
<circle cx="925.35" cy="187.72" r="3.3"/>
<circle cx="932.22" cy="184.87" r="3.3"/>
<circle cx="939.6" cy="190.8" r="3.4" fill="#fff" stroke="#000" stroke-width="0.7"/>
<circle cx="918.4" cy="212.7" r="3.4" fill="#fff" stroke="#000" stroke-width="0.7"/>
<circle cx="960.3" cy="212.7" r="3.4" fill="#fff" stroke="#000" stroke-width="0.7"/>
<circle cx="939.6" cy="234.3" r="3.4" fill="#fff" stroke="#000" stroke-width="0.7"/>
<line x1="934.6" y1="196.5" x2="946.8" y2="228.2" stroke="#000" stroke-width="1.3" />
<line x1="944.7" y1="196.5" x2="932.6" y2="228.2" stroke="#000" stroke-width="1.3" />
<circle cx="168" cy="252.3" r="6.6" fill="#a0a0a0" stroke="#6e6e6e" stroke-width="0.8"/>
<circle cx="147" cy="261" r="6.6" fill="#a0a0a0" stroke="#6e6e6e" stroke-width="0.8"/>
<circle cx="133.8" cy="279.8" r="6.6" fill="#a0a0a0" stroke="#6e6e6e" stroke-width="0.8"/>
<circle cx="131.5" cy="302.8" r="6.6" fill="#a0a0a0" stroke="#6e6e6e" stroke-width="0.8"/>
<circle cx="141.2" cy="322.9" r="6.6" fill="#a0a0a0" stroke="#6e6e6e" stroke-width="0.8"/>
<circle cx="164.2" cy="274.3" r="3.5"/>
<circle cx="173.6" cy="273.1" r="3.5"/>
<circle cx="180.1" cy="277.8" r="3.5"/>
<circle cx="187" cy="282.7" r="3.5"/>
<circle cx="193.5" cy="288" r="3.5"/>
<circle cx="199.9" cy="293.6" r="3.5"/>
<circle cx="206.3" cy="299.1" r="3.5"/>
<circle cx="206.3" cy="307.3" r="3.5"/>
<circle cx="200.9" cy="313.2" r="3.5"/>
<circle cx="193.7" cy="312.5" r="3.5"/>
<circle cx="185" cy="312.5" r="3.5"/>
<circle cx="176.6" cy="312.5" r="3.5"/>
<circle cx="168" cy="311.4" r="3.5"/>
<circle cx="157.8" cy="311" r="3.5"/>
<circle cx="151.6" cy="304.3" r="3.5"/>
<circle cx="150.9" cy="296.1" r="3.5"/>
<circle cx="152.3" cy="288" r="3.5"/>
<circle cx="157.2" cy="281.3" r="3.5"/>
<circle cx="168.7" cy="282" r="3.4" fill="#fff" stroke="#000" stroke-width="0.7"/>
<circle cx="162" cy="301" r="3.4" fill="#fff" stroke="#000" stroke-width="0.7"/>
<circle cx="193.7" cy="302" r="3.4" fill="#fff" stroke="#000" stroke-width="0.7"/>
<line x1="159.8" y1="294.6" x2="194" y2="294.6" stroke="#000" stroke-width="1.3" />
<line x1="162.7" y1="286.2" x2="188.5" y2="307.3" stroke="#000" stroke-width="1.3" />
<circle cx="212" cy="393.5" r="3.5"/>
<circle cx="220.1" cy="391.9" r="3.5"/>
<circle cx="229" cy="394.3" r="3.5"/>
<circle cx="205" cy="397.3" r="3.5"/>
<circle cx="237.6" cy="398.9" r="3.5"/>
<circle cx="201" cy="404.9" r="3.5"/>
<circle cx="242" cy="406.7" r="3.5"/>
<circle cx="203.9" cy="414.3" r="3.5"/>
<circle cx="240" cy="414.6" r="3.5"/>
<circle cx="206" cy="422.7" r="3.5"/>
<circle cx="237.6" cy="422.7" r="3.5"/>
<circle cx="209.1" cy="430.8" r="3.5"/>
<circle cx="235" cy="430.5" r="3.5"/>
<circle cx="211.7" cy="438.9" r="3.5"/>
<circle cx="231.9" cy="438.9" r="3.5"/>
<circle cx="213.8" cy="445.9" r="3.5"/>
<circle cx="229" cy="446.4" r="3.5"/>
<circle cx="220.9" cy="449.4" r="3.5"/>
<circle cx="211.2" cy="405.4" r="3.4" fill="#fff" stroke="#000" stroke-width="0.7"/>
<circle cx="231.8" cy="405.4" r="3.4" fill="#fff" stroke="#000" stroke-width="0.7"/>
<circle cx="221.2" cy="435.3" r="3.4" fill="#fff" stroke="#000" stroke-width="0.7"/>
<line x1="216.9" y1="398.4" x2="228.2" y2="430.8" stroke="#000" stroke-width="1.5" />
<line x1="226" y1="398.4" x2="214.4" y2="430.5" stroke="#000" stroke-width="1.5" />
<polyline points="231.4,523.5 232.4,524.47 233.4,525.14 234.4,525.28 235.4,524.86 236.4,524.01 237.4,522.99 238.4,522.14 239.4,521.72 240.4,521.86 241.4,522.53 242.4,523.5 243.4,524.47 244.4,525.14 245.4,525.28 246.4,524.86 247.4,524.01 248.4,522.99 249.4,522.14 250.4,521.72 251.4,521.86 252.4,522.53 253.4,523.5 254.4,524.47 255.4,525.14 256.4,525.28 257.4,524.86 258.4,524.01 259.4,522.99 260.4,522.14 261.4,521.72 262.4,521.86 263.4,522.53 264.4,523.5 265.4,524.47 266.4,525.14 267.4,525.28 268.4,524.86 269.4,524.01 270.4,522.99 271.4,522.14 272.4,521.72 273.4,521.86 274.4,522.53 275.4,523.5 276.4,524.47 277.4,525.14 278.4,525.28 279.4,524.86 280.4,524.01 281.4,522.99 282.4,522.14 283.4,521.72 284.4,521.86 285.4,522.53 286.4,523.5 287.4,524.47 288.4,525.14 289.4,525.28 290.4,524.86 291.4,524.01 292.4,522.99 293.4,522.14 294.4,521.72 295.4,521.86 296.4,522.53 297.4,523.5 298.4,524.47 299.4,525.14 300.4,525.28 301.4,524.86" fill="none" stroke="#000" stroke-width="0.8"/>
<circle cx="250" cy="497.5" r="3.5"/>
<circle cx="257.3" cy="493.8" r="3.5"/>
<circle cx="265.4" cy="492.2" r="3.5"/>
<circle cx="274" cy="494.9" r="3.5"/>
<circle cx="282.4" cy="499.1" r="3.5"/>
<circle cx="286.8" cy="507.2" r="3.5"/>
<circle cx="284.9" cy="514.9" r="3.5"/>
<circle cx="282.8" cy="523.5" r="3.5"/>
<circle cx="279.7" cy="531.1" r="3.5"/>
<circle cx="276.8" cy="539.2" r="3.5"/>
<circle cx="274" cy="546.8" r="3.5"/>
<circle cx="266.2" cy="550" r="3.5"/>
<circle cx="258.9" cy="546.5" r="3.5"/>
<circle cx="256.5" cy="539.7" r="3.5"/>
<circle cx="253.7" cy="531.6" r="3.5"/>
<circle cx="250.8" cy="523.5" r="3.5"/>
<circle cx="248.7" cy="514.9" r="3.5"/>
<circle cx="245.9" cy="505.1" r="3.5"/>
<circle cx="256.5" cy="505.6" r="3.4" fill="#fff" stroke="#000" stroke-width="0.7"/>
<circle cx="276.8" cy="505.6" r="3.4" fill="#fff" stroke="#000" stroke-width="0.7"/>
<circle cx="267" cy="536" r="3.4" fill="#fff" stroke="#000" stroke-width="0.7"/>
<circle cx="257" cy="551.7" r="3.4" fill="#fff" stroke="#000" stroke-width="0.7"/>
<line x1="312.5" y1="618.7" x2="419" y2="618.7" stroke="#000" stroke-width="1.6" />
<line x1="312.5" y1="627.4" x2="419" y2="627.4" stroke="#000" stroke-width="1.6" />
<line x1="321.5" y1="618.7" x2="324" y2="618.7" stroke="#fff" stroke-width="2.5"/>
<line x1="334" y1="618.7" x2="339.5" y2="618.7" stroke="#fff" stroke-width="2.5"/>
<line x1="396" y1="618.7" x2="402" y2="618.7" stroke="#fff" stroke-width="2.5"/>
<line x1="327" y1="627.4" x2="332" y2="627.4" stroke="#fff" stroke-width="2.5"/>
<line x1="393.5" y1="627.4" x2="400.2" y2="627.4" stroke="#fff" stroke-width="2.5"/>
<circle cx="352.2" cy="601.5" r="3.5"/>
<circle cx="359.3" cy="597.7" r="3.5"/>
<circle cx="367.2" cy="596.2" r="3.5"/>
<circle cx="375.9" cy="598.5" r="3.5"/>
<circle cx="384.5" cy="603" r="3.5"/>
<circle cx="389" cy="611.2" r="3.5"/>
<circle cx="386.7" cy="619.5" r="3.5"/>
<circle cx="384.5" cy="627.4" r="3.5"/>
<circle cx="381.8" cy="635.2" r="3.5"/>
<circle cx="379" cy="643.2" r="3.5"/>
<circle cx="375.8" cy="651" r="3.5"/>
<circle cx="368" cy="654.3" r="3.5"/>
<circle cx="360.5" cy="651.3" r="3.5"/>
<circle cx="358.2" cy="643.8" r="3.5"/>
<circle cx="355.7" cy="636" r="3.5"/>
<circle cx="353" cy="627.4" r="3.5"/>
<circle cx="350.7" cy="619.2" r="3.5"/>
<circle cx="347.7" cy="609.7" r="3.5"/>
<circle cx="358.7" cy="609.7" r="3.4" fill="#fff" stroke="#000" stroke-width="0.7"/>
<circle cx="379" cy="609.7" r="3.4" fill="#fff" stroke="#000" stroke-width="0.7"/>
<circle cx="368.7" cy="640.5" r="3.4" fill="#fff" stroke="#000" stroke-width="0.7"/>
<rect x="300.5" y="615" width="12" height="17.3" fill="#fff" stroke="#000" stroke-width="1.4"/>
<line x1="300.5" y1="623.3" x2="312.5" y2="623.3" stroke="#000" stroke-width="1.4" />
<rect x="419" y="615.7" width="12.8" height="18.1" fill="#fff" stroke="#000" stroke-width="1.4"/>
<line x1="419" y1="624.8" x2="431.8" y2="624.8" stroke="#000" stroke-width="1.4" />
<rect x="353" y="332.7" width="109.4" height="8.9" fill="#fff" stroke="#000" stroke-width="1.5"/>
<circle cx="395.7" cy="314.6" r="3.5"/>
<circle cx="403.5" cy="310.3" r="3.5"/>
<circle cx="411.9" cy="308.9" r="3.5"/>
<circle cx="421.1" cy="311.9" r="3.5"/>
<circle cx="429.5" cy="316.5" r="3.5"/>
<circle cx="433.5" cy="323.8" r="3.5"/>
<circle cx="431.6" cy="331.9" r="3.5"/>
<circle cx="429.5" cy="340" r="3.5"/>
<circle cx="425.9" cy="348.1" r="3.5"/>
<circle cx="423.2" cy="356.2" r="3.5"/>
<circle cx="420.5" cy="364.3" r="3.5"/>
<circle cx="412.4" cy="367" r="3.5"/>
<circle cx="404.9" cy="364.3" r="3.5"/>
<circle cx="402.2" cy="356.5" r="3.5"/>
<circle cx="399.5" cy="348.4" r="3.5"/>
<circle cx="397" cy="340.8" r="3.5"/>
<circle cx="394.9" cy="332.2" r="3.5"/>
<circle cx="392.2" cy="322.7" r="3.5"/>
<circle cx="402.4" cy="321.9" r="3.4" fill="#fff" stroke="#000" stroke-width="0.7"/>
<circle cx="421.9" cy="321.9" r="3.4" fill="#fff" stroke="#000" stroke-width="0.7"/>
<circle cx="412.4" cy="354.3" r="3.4" fill="#fff" stroke="#000" stroke-width="0.7"/>
<rect x="340.8" y="328.1" width="12.2" height="18.1" fill="#fff" stroke="#000" stroke-width="1.4"/>
<line x1="340.8" y1="337.3" x2="353" y2="337.3" stroke="#000" stroke-width="1.4" />
<rect x="461.9" y="329.5" width="11.3" height="18.1" fill="#fff" stroke="#000" stroke-width="1.4"/>
<line x1="461.9" y1="338.1" x2="473.2" y2="338.1" stroke="#000" stroke-width="1.4" />
<polyline points="367,189.6 367.25,190.03 367.5,190.47 367.75,190.9 368,191.33 368.25,191.77 368.5,192.2 368.75,192.63 369,193.07 369.26,193.5 369.51,193.93 369.76,194.36 370.01,194.8 370.26,195.23 370.51,195.66 370.76,196.1 371.01,196.1 371.26,196.1 371.51,196.1 371.76,196.1 372.01,196.1 372.26,196.1 372.51,196.1 372.76,195.89 373.01,195.45 373.26,195.02 373.51,194.59 373.77,194.15 374.02,193.72 374.27,193.29 374.52,192.86 374.77,192.42 375.02,191.99 375.27,191.56 375.52,191.12 375.77,190.69 376.02,190.26 376.27,189.82 376.52,189.39 376.77,188.96 377.02,188.52 377.27,188.09 377.52,187.66 377.77,187.22 378.02,186.79 378.28,186.36 378.53,185.92 378.78,185.49 379.03,185.06 379.28,184.63 379.53,184.19 379.78,183.76 380.03,183.33 380.28,183.1 380.53,183.1 380.78,183.1 381.03,183.1 381.28,183.1 381.53,183.1 381.78,183.1 382.03,183.1 382.28,183.52 382.54,183.96 382.79,184.39 383.04,184.82 383.29,185.26 383.54,185.69 383.79,186.12 384.04,186.55 384.29,186.99 384.54,187.42 384.79,187.85 385.04,188.29 385.29,188.72 385.54,189.15 385.79,189.59 386.04,190.02 386.29,190.45 386.54,190.89 386.79,191.32 387.05,191.75 387.3,192.19 387.55,192.62 387.8,193.05 388.05,193.49 388.3,193.92 388.55,194.35 388.8,194.78 389.05,195.22 389.3,195.65 389.55,196.08 389.8,196.1 390.05,196.1 390.3,196.1 390.55,196.1 390.8,196.1 391.05,196.1 391.3,196.1 391.56,195.9 391.81,195.47 392.06,195.03 392.31,194.6 392.56,194.17 392.81,193.73 393.06,193.3 393.31,192.87 393.56,192.44 393.81,192 394.06,191.57 394.31,191.14 394.56,190.7 394.81,190.27 395.06,189.84 395.31,189.4 395.56,188.97 395.82,188.54 396.07,188.1 396.32,187.67 396.57,187.24 396.82,186.8 397.07,186.37 397.32,185.94 397.57,185.5 397.82,185.07 398.07,184.64 398.32,184.21 398.57,183.77 398.82,183.34 399.07,183.1 399.32,183.1 399.57,183.1 399.82,183.1 400.07,183.1 400.33,183.1 400.58,183.1 400.83,183.1 401.08,183.51 401.33,183.94 401.58,184.38 401.83,184.81 402.08,185.24 402.33,185.68 402.58,186.11 402.83,186.54 403.08,186.97 403.33,187.41 403.58,187.84 403.83,188.27 404.08,188.71 404.33,189.14 404.58,189.57 404.84,190.01 405.09,190.44 405.34,190.87 405.59,191.31 405.84,191.74 406.09,192.17 406.34,192.61 406.59,193.04 406.84,193.47 407.09,193.91 407.34,194.34 407.59,194.77 407.84,195.2 408.09,195.64 408.34,196.07 408.59,196.1 408.84,196.1 409.1,196.1 409.35,196.1 409.6,196.1 409.85,196.1 410.1,196.1 410.35,195.91 410.6,195.48 410.85,195.05 411.1,194.61 411.35,194.18 411.6,193.75 411.85,193.31 412.1,192.88 412.35,192.45 412.6,192.01 412.85,191.58 413.1,191.15 413.35,190.72 413.61,190.28 413.86,189.85 414.11,189.42 414.36,188.98 414.61,188.55 414.86,188.12 415.11,187.68 415.36,187.25 415.61,186.82 415.86,186.38 416.11,185.95 416.36,185.52 416.61,185.08 416.86,184.65 417.11,184.22 417.36,183.78 417.61,183.35 417.86,183.1 418.12,183.1 418.37,183.1 418.62,183.1 418.87,183.1 419.12,183.1 419.37,183.1 419.62,183.1 419.87,183.5 420.12,183.93 420.37,184.36 420.62,184.8 420.87,185.23 421.12,185.66 421.37,186.1 421.62,186.53 421.87,186.96 422.12,187.4 422.38,187.83 422.63,188.26 422.88,188.69 423.13,189.13 423.38,189.56 423.63,189.99 423.88,190.43 424.13,190.86 424.38,191.29 424.63,191.73 424.88,192.16 425.13,192.59 425.38,193.03 425.63,193.46 425.88,193.89 426.13,194.33 426.38,194.76 426.63,195.19 426.89,195.63 427.14,196.06 427.39,196.1 427.64,196.1 427.89,196.1 428.14,196.1 428.39,196.1 428.64,196.1 428.89,196.1 429.14,195.93 429.39,195.49 429.64,195.06 429.89,194.63 430.14,194.19 430.39,193.76 430.64,193.33 430.89,192.89 431.14,192.46 431.4,192.03 431.65,191.59 431.9,191.16 432.15,190.73 432.4,190.3 432.65,189.86 432.9,189.43 433.15,189 433.4,188.56" fill="none" stroke="#000" stroke-width="1.6" stroke-linejoin="round"/>
<polyline points="367,189.6 367.25,189.17 367.5,188.73 367.75,188.3 368,187.87 368.25,187.43 368.5,187 368.75,186.57 369,186.13 369.26,185.7 369.51,185.27 369.76,184.84 370.01,184.4 370.26,183.97 370.51,183.54 370.76,183.1 371.01,183.1 371.26,183.1 371.51,183.1 371.76,183.1 372.01,183.1 372.26,183.1 372.51,183.1 372.76,183.31 373.01,183.75 373.26,184.18 373.51,184.61 373.77,185.05 374.02,185.48 374.27,185.91 374.52,186.34 374.77,186.78 375.02,187.21 375.27,187.64 375.52,188.08 375.77,188.51 376.02,188.94 376.27,189.38 376.52,189.81 376.77,190.24 377.02,190.68 377.27,191.11 377.52,191.54 377.77,191.98 378.02,192.41 378.28,192.84 378.53,193.28 378.78,193.71 379.03,194.14 379.28,194.57 379.53,195.01 379.78,195.44 380.03,195.87 380.28,196.1 380.53,196.1 380.78,196.1 381.03,196.1 381.28,196.1 381.53,196.1 381.78,196.1 382.03,196.1 382.28,195.68 382.54,195.24 382.79,194.81 383.04,194.38 383.29,193.94 383.54,193.51 383.79,193.08 384.04,192.65 384.29,192.21 384.54,191.78 384.79,191.35 385.04,190.91 385.29,190.48 385.54,190.05 385.79,189.61 386.04,189.18 386.29,188.75 386.54,188.31 386.79,187.88 387.05,187.45 387.3,187.01 387.55,186.58 387.8,186.15 388.05,185.71 388.3,185.28 388.55,184.85 388.8,184.42 389.05,183.98 389.3,183.55 389.55,183.12 389.8,183.1 390.05,183.1 390.3,183.1 390.55,183.1 390.8,183.1 391.05,183.1 391.3,183.1 391.56,183.3 391.81,183.73 392.06,184.17 392.31,184.6 392.56,185.03 392.81,185.47 393.06,185.9 393.31,186.33 393.56,186.76 393.81,187.2 394.06,187.63 394.31,188.06 394.56,188.5 394.81,188.93 395.06,189.36 395.31,189.8 395.56,190.23 395.82,190.66 396.07,191.1 396.32,191.53 396.57,191.96 396.82,192.4 397.07,192.83 397.32,193.26 397.57,193.7 397.82,194.13 398.07,194.56 398.32,194.99 398.57,195.43 398.82,195.86 399.07,196.1 399.32,196.1 399.57,196.1 399.82,196.1 400.07,196.1 400.33,196.1 400.58,196.1 400.83,196.1 401.08,195.69 401.33,195.26 401.58,194.82 401.83,194.39 402.08,193.96 402.33,193.52 402.58,193.09 402.83,192.66 403.08,192.23 403.33,191.79 403.58,191.36 403.83,190.93 404.08,190.49 404.33,190.06 404.58,189.63 404.84,189.19 405.09,188.76 405.34,188.33 405.59,187.89 405.84,187.46 406.09,187.03 406.34,186.59 406.59,186.16 406.84,185.73 407.09,185.29 407.34,184.86 407.59,184.43 407.84,184 408.09,183.56 408.34,183.13 408.59,183.1 408.84,183.1 409.1,183.1 409.35,183.1 409.6,183.1 409.85,183.1 410.1,183.1 410.35,183.29 410.6,183.72 410.85,184.15 411.1,184.59 411.35,185.02 411.6,185.45 411.85,185.89 412.1,186.32 412.35,186.75 412.6,187.19 412.85,187.62 413.1,188.05 413.35,188.48 413.61,188.92 413.86,189.35 414.11,189.78 414.36,190.22 414.61,190.65 414.86,191.08 415.11,191.52 415.36,191.95 415.61,192.38 415.86,192.82 416.11,193.25 416.36,193.68 416.61,194.12 416.86,194.55 417.11,194.98 417.36,195.42 417.61,195.85 417.86,196.1 418.12,196.1 418.37,196.1 418.62,196.1 418.87,196.1 419.12,196.1 419.37,196.1 419.62,196.1 419.87,195.7 420.12,195.27 420.37,194.84 420.62,194.4 420.87,193.97 421.12,193.54 421.37,193.1 421.62,192.67 421.87,192.24 422.12,191.8 422.38,191.37 422.63,190.94 422.88,190.51 423.13,190.07 423.38,189.64 423.63,189.21 423.88,188.77 424.13,188.34 424.38,187.91 424.63,187.47 424.88,187.04 425.13,186.61 425.38,186.17 425.63,185.74 425.88,185.31 426.13,184.87 426.38,184.44 426.63,184.01 426.89,183.57 427.14,183.14 427.39,183.1 427.64,183.1 427.89,183.1 428.14,183.1 428.39,183.1 428.64,183.1 428.89,183.1 429.14,183.27 429.39,183.71 429.64,184.14 429.89,184.57 430.14,185.01 430.39,185.44 430.64,185.87 430.89,186.31 431.14,186.74 431.4,187.17 431.65,187.61 431.9,188.04 432.15,188.47 432.4,188.9 432.65,189.34 432.9,189.77 433.15,190.2 433.4,190.64" fill="none" stroke="#000" stroke-width="1.6" stroke-linejoin="round"/>
<polyline points="559.4,189.6 559.65,190.03 559.9,190.46 560.15,190.9 560.4,191.33 560.65,191.76 560.9,192.19 561.15,192.63 561.4,193.06 561.65,193.49 561.9,193.92 562.15,194.36 562.4,194.79 562.65,195.22 562.9,195.65 563.15,196.09 563.4,196.1 563.65,196.1 563.9,196.1 564.15,196.1 564.4,196.1 564.65,196.1 564.9,196.1 565.15,195.9 565.4,195.47 565.65,195.04 565.9,194.61 566.15,194.17 566.4,193.74 566.66,193.31 566.91,192.88 567.16,192.44 567.41,192.01 567.66,191.58 567.91,191.15 568.16,190.71 568.41,190.28 568.66,189.85 568.91,189.42 569.16,188.98 569.41,188.55 569.66,188.12 569.91,187.69 570.16,187.25 570.41,186.82 570.66,186.39 570.91,185.96 571.16,185.52 571.41,185.09 571.66,184.66 571.91,184.23 572.16,183.79 572.41,183.36 572.66,183.1 572.91,183.1 573.16,183.1 573.41,183.1 573.66,183.1 573.91,183.1 574.16,183.1 574.41,183.1 574.66,183.48 574.91,183.91 575.16,184.35 575.41,184.78 575.66,185.21 575.91,185.64 576.16,186.08 576.41,186.51 576.66,186.94 576.91,187.37 577.16,187.81 577.41,188.24 577.66,188.67 577.91,189.1 578.16,189.54 578.41,189.97 578.66,190.4 578.91,190.83 579.16,191.27 579.41,191.7 579.66,192.13 579.91,192.56 580.16,193 580.41,193.43 580.67,193.86 580.92,194.29 581.17,194.73 581.42,195.16 581.67,195.59 581.92,196.02 582.17,196.1 582.42,196.1 582.67,196.1 582.92,196.1 583.17,196.1 583.42,196.1 583.67,196.1 583.92,195.97 584.17,195.53 584.42,195.1 584.67,194.67 584.92,194.24 585.17,193.8 585.42,193.37 585.67,192.94 585.92,192.51 586.17,192.07 586.42,191.64 586.67,191.21 586.92,190.78 587.17,190.34 587.42,189.91 587.67,189.48 587.92,189.05 588.17,188.61 588.42,188.18 588.67,187.75 588.92,187.32 589.17,186.88 589.42,186.45 589.67,186.02 589.92,185.59 590.17,185.15 590.42,184.72 590.67,184.29 590.92,183.86 591.17,183.42 591.42,183.1 591.67,183.1 591.92,183.1 592.17,183.1 592.42,183.1 592.67,183.1 592.92,183.1 593.17,183.1 593.42,183.42 593.67,183.85 593.92,184.28 594.17,184.72 594.42,185.15 594.67,185.58 594.93,186.01 595.18,186.45 595.43,186.88 595.68,187.31 595.93,187.74 596.18,188.18 596.43,188.61 596.68,189.04 596.93,189.47 597.18,189.91 597.43,190.34 597.68,190.77 597.93,191.2 598.18,191.64 598.43,192.07 598.68,192.5 598.93,192.93 599.18,193.37 599.43,193.8 599.68,194.23 599.93,194.66 600.18,195.1 600.43,195.53 600.68,195.96 600.93,196.1 601.18,196.1 601.43,196.1 601.68,196.1 601.93,196.1 602.18,196.1 602.43,196.1 602.68,196.03 602.93,195.6 603.18,195.16 603.43,194.73 603.68,194.3 603.93,193.87 604.18,193.43 604.43,193 604.68,192.57 604.93,192.14 605.18,191.71 605.43,191.27 605.68,190.84 605.93,190.41 606.18,189.98 606.43,189.54 606.68,189.11 606.93,188.68 607.18,188.25 607.43,187.81 607.68,187.38 607.93,186.95 608.18,186.52 608.43,186.08 608.68,185.65 608.93,185.22 609.19,184.79 609.44,184.35 609.69,183.92 609.94,183.49 610.19,183.1 610.44,183.1 610.69,183.1 610.94,183.1 611.19,183.1 611.44,183.1 611.69,183.1 611.94,183.1 612.19,183.35 612.44,183.79 612.69,184.22 612.94,184.65 613.19,185.08 613.44,185.52 613.69,185.95 613.94,186.38 614.19,186.81 614.44,187.25 614.69,187.68 614.94,188.11 615.19,188.54 615.44,188.98 615.69,189.41 615.94,189.84 616.19,190.27 616.44,190.71 616.69,191.14 616.94,191.57 617.19,192 617.44,192.44 617.69,192.87 617.94,193.3 618.19,193.73 618.44,194.17 618.69,194.6 618.94,195.03 619.19,195.46 619.44,195.9 619.69,196.1 619.94,196.1 620.19,196.1 620.44,196.1 620.69,196.1 620.94,196.1 621.19,196.1 621.44,196.09 621.69,195.66 621.94,195.23 622.19,194.8 622.44,194.36 622.69,193.93 622.94,193.5 623.2,193.07 623.45,192.63 623.7,192.2 623.95,191.77 624.2,191.34 624.45,190.9 624.7,190.47 624.95,190.04 625.2,189.61 625.45,189.17 625.7,188.74 625.95,188.31 626.2,187.88 626.45,187.44 626.7,187.01 626.95,186.58 627.2,186.15 627.45,185.71 627.7,185.28 627.95,184.85 628.2,184.42 628.45,183.98 628.7,183.55 628.95,183.12 629.2,183.1 629.45,183.1 629.7,183.1 629.95,183.1 630.2,183.1" fill="none" stroke="#000" stroke-width="1.6" stroke-linejoin="round"/>
<polyline points="559.4,189.6 559.65,189.17 559.9,188.74 560.15,188.3 560.4,187.87 560.65,187.44 560.9,187.01 561.15,186.57 561.4,186.14 561.65,185.71 561.9,185.28 562.15,184.84 562.4,184.41 562.65,183.98 562.9,183.55 563.15,183.11 563.4,183.1 563.65,183.1 563.9,183.1 564.15,183.1 564.4,183.1 564.65,183.1 564.9,183.1 565.15,183.3 565.4,183.73 565.65,184.16 565.9,184.59 566.15,185.03 566.4,185.46 566.66,185.89 566.91,186.32 567.16,186.76 567.41,187.19 567.66,187.62 567.91,188.05 568.16,188.49 568.41,188.92 568.66,189.35 568.91,189.78 569.16,190.22 569.41,190.65 569.66,191.08 569.91,191.51 570.16,191.95 570.41,192.38 570.66,192.81 570.91,193.24 571.16,193.68 571.41,194.11 571.66,194.54 571.91,194.97 572.16,195.41 572.41,195.84 572.66,196.1 572.91,196.1 573.16,196.1 573.41,196.1 573.66,196.1 573.91,196.1 574.16,196.1 574.41,196.1 574.66,195.72 574.91,195.29 575.16,194.85 575.41,194.42 575.66,193.99 575.91,193.56 576.16,193.12 576.41,192.69 576.66,192.26 576.91,191.83 577.16,191.39 577.41,190.96 577.66,190.53 577.91,190.1 578.16,189.66 578.41,189.23 578.66,188.8 578.91,188.37 579.16,187.93 579.41,187.5 579.66,187.07 579.91,186.64 580.16,186.2 580.41,185.77 580.67,185.34 580.92,184.91 581.17,184.47 581.42,184.04 581.67,183.61 581.92,183.18 582.17,183.1 582.42,183.1 582.67,183.1 582.92,183.1 583.17,183.1 583.42,183.1 583.67,183.1 583.92,183.23 584.17,183.67 584.42,184.1 584.67,184.53 584.92,184.96 585.17,185.4 585.42,185.83 585.67,186.26 585.92,186.69 586.17,187.13 586.42,187.56 586.67,187.99 586.92,188.42 587.17,188.86 587.42,189.29 587.67,189.72 587.92,190.15 588.17,190.59 588.42,191.02 588.67,191.45 588.92,191.88 589.17,192.32 589.42,192.75 589.67,193.18 589.92,193.61 590.17,194.05 590.42,194.48 590.67,194.91 590.92,195.34 591.17,195.78 591.42,196.1 591.67,196.1 591.92,196.1 592.17,196.1 592.42,196.1 592.67,196.1 592.92,196.1 593.17,196.1 593.42,195.78 593.67,195.35 593.92,194.92 594.17,194.48 594.42,194.05 594.67,193.62 594.93,193.19 595.18,192.75 595.43,192.32 595.68,191.89 595.93,191.46 596.18,191.02 596.43,190.59 596.68,190.16 596.93,189.73 597.18,189.29 597.43,188.86 597.68,188.43 597.93,188 598.18,187.56 598.43,187.13 598.68,186.7 598.93,186.27 599.18,185.83 599.43,185.4 599.68,184.97 599.93,184.54 600.18,184.1 600.43,183.67 600.68,183.24 600.93,183.1 601.18,183.1 601.43,183.1 601.68,183.1 601.93,183.1 602.18,183.1 602.43,183.1 602.68,183.17 602.93,183.6 603.18,184.04 603.43,184.47 603.68,184.9 603.93,185.33 604.18,185.77 604.43,186.2 604.68,186.63 604.93,187.06 605.18,187.49 605.43,187.93 605.68,188.36 605.93,188.79 606.18,189.22 606.43,189.66 606.68,190.09 606.93,190.52 607.18,190.95 607.43,191.39 607.68,191.82 607.93,192.25 608.18,192.68 608.43,193.12 608.68,193.55 608.93,193.98 609.19,194.41 609.44,194.85 609.69,195.28 609.94,195.71 610.19,196.1 610.44,196.1 610.69,196.1 610.94,196.1 611.19,196.1 611.44,196.1 611.69,196.1 611.94,196.1 612.19,195.85 612.44,195.41 612.69,194.98 612.94,194.55 613.19,194.12 613.44,193.68 613.69,193.25 613.94,192.82 614.19,192.39 614.44,191.95 614.69,191.52 614.94,191.09 615.19,190.66 615.44,190.22 615.69,189.79 615.94,189.36 616.19,188.93 616.44,188.49 616.69,188.06 616.94,187.63 617.19,187.2 617.44,186.76 617.69,186.33 617.94,185.9 618.19,185.47 618.44,185.03 618.69,184.6 618.94,184.17 619.19,183.74 619.44,183.3 619.69,183.1 619.94,183.1 620.19,183.1 620.44,183.1 620.69,183.1 620.94,183.1 621.19,183.1 621.44,183.11 621.69,183.54 621.94,183.97 622.19,184.4 622.44,184.84 622.69,185.27 622.94,185.7 623.2,186.13 623.45,186.57 623.7,187 623.95,187.43 624.2,187.86 624.45,188.3 624.7,188.73 624.95,189.16 625.2,189.59 625.45,190.03 625.7,190.46 625.95,190.89 626.2,191.32 626.45,191.76 626.7,192.19 626.95,192.62 627.2,193.05 627.45,193.49 627.7,193.92 627.95,194.35 628.2,194.78 628.45,195.22 628.7,195.65 628.95,196.08 629.2,196.1 629.45,196.1 629.7,196.1 629.95,196.1 630.2,196.1" fill="none" stroke="#000" stroke-width="1.6" stroke-linejoin="round"/>
<rect x="445.4" y="185.4" width="102.2" height="9.2" fill="#fff" stroke="#000" stroke-width="1.6"/>
<rect x="433.4" y="181.8" width="12" height="17" fill="#fff" stroke="#000" stroke-width="1.4"/>
<line x1="433.4" y1="190.2" x2="445.4" y2="190.2" stroke="#000" stroke-width="1.4" />
<rect x="547.6" y="181.8" width="11.8" height="17" fill="#fff" stroke="#000" stroke-width="1.4"/>
<line x1="547.6" y1="190.2" x2="559.4" y2="190.2" stroke="#000" stroke-width="1.4" />
<rect x="547.6" y="188.6" width="11.8" height="3.2"/>
<text x="437" y="217.4" font-size="8.4" font-weight="bold">mG</text>
<line x1="451.2" y1="214.2" x2="455.4" y2="214.2" stroke="#000" stroke-width="1.6" />
<line x1="553.1" y1="214.2" x2="557.5" y2="214.2" stroke="#000" stroke-width="1.6" />
<line x1="541.6" y1="214.2" x2="546" y2="214.2" stroke="#000" stroke-width="1.6" />
<line x1="530.1" y1="214.2" x2="534.5" y2="214.2" stroke="#000" stroke-width="1.6" />
<line x1="518.6" y1="214.2" x2="523" y2="214.2" stroke="#000" stroke-width="1.6" />
<line x1="507.1" y1="214.2" x2="511.5" y2="214.2" stroke="#000" stroke-width="1.6" />
<line x1="495.6" y1="214.2" x2="500" y2="214.2" stroke="#000" stroke-width="1.6" />
<line x1="484.1" y1="214.2" x2="488.5" y2="214.2" stroke="#000" stroke-width="1.6" />
<line x1="472.6" y1="214.2" x2="477" y2="214.2" stroke="#000" stroke-width="1.6" />
<line x1="461.1" y1="214.2" x2="465.5" y2="214.2" stroke="#000" stroke-width="1.6" />
<text x="556.5" y="219.1" font-size="14">AAAAAA</text>
<text x="448.2" y="232.8" font-size="8.4" font-weight="bold">mG</text>
<line x1="462.4" y1="229.6" x2="466.6" y2="229.6" stroke="#000" stroke-width="1.6" />
<line x1="553.1" y1="229.6" x2="557.5" y2="229.6" stroke="#000" stroke-width="1.6" />
<line x1="541.6" y1="229.6" x2="546" y2="229.6" stroke="#000" stroke-width="1.6" />
<line x1="530.1" y1="229.6" x2="534.5" y2="229.6" stroke="#000" stroke-width="1.6" />
<line x1="518.6" y1="229.6" x2="523" y2="229.6" stroke="#000" stroke-width="1.6" />
<line x1="507.1" y1="229.6" x2="511.5" y2="229.6" stroke="#000" stroke-width="1.6" />
<line x1="495.6" y1="229.6" x2="500" y2="229.6" stroke="#000" stroke-width="1.6" />
<line x1="484.1" y1="229.6" x2="488.5" y2="229.6" stroke="#000" stroke-width="1.6" />
<line x1="472.6" y1="229.6" x2="477" y2="229.6" stroke="#000" stroke-width="1.6" />
<text x="556.5" y="234.5" font-size="14">AAAAAA</text>
<text x="470.6" y="248.8" font-size="8.4" font-weight="bold">mG</text>
<line x1="484.8" y1="245.6" x2="489" y2="245.6" stroke="#000" stroke-width="1.6" />
<line x1="553.1" y1="245.6" x2="557.5" y2="245.6" stroke="#000" stroke-width="1.6" />
<line x1="541.6" y1="245.6" x2="546" y2="245.6" stroke="#000" stroke-width="1.6" />
<line x1="530.1" y1="245.6" x2="534.5" y2="245.6" stroke="#000" stroke-width="1.6" />
<line x1="518.6" y1="245.6" x2="523" y2="245.6" stroke="#000" stroke-width="1.6" />
<line x1="507.1" y1="245.6" x2="511.5" y2="245.6" stroke="#000" stroke-width="1.6" />
<line x1="495.6" y1="245.6" x2="500" y2="245.6" stroke="#000" stroke-width="1.6" />
<text x="556.5" y="250.5" font-size="14">AAAAAA</text>
<text x="491.6" y="263.4" font-size="8.4" font-weight="bold">mG</text>
<line x1="505.8" y1="260.2" x2="510" y2="260.2" stroke="#000" stroke-width="1.6" />
<line x1="553.1" y1="260.2" x2="557.5" y2="260.2" stroke="#000" stroke-width="1.6" />
<line x1="541.6" y1="260.2" x2="546" y2="260.2" stroke="#000" stroke-width="1.6" />
<line x1="530.1" y1="260.2" x2="534.5" y2="260.2" stroke="#000" stroke-width="1.6" />
<line x1="518.6" y1="260.2" x2="523" y2="260.2" stroke="#000" stroke-width="1.6" />
<text x="556.5" y="265.1" font-size="14">AAAAAA</text>
<text x="516.8" y="277.4" font-size="8.4" font-weight="bold">mG</text>
<line x1="531" y1="274.2" x2="535.2" y2="274.2" stroke="#000" stroke-width="1.6" />
<line x1="553.1" y1="274.2" x2="557.5" y2="274.2" stroke="#000" stroke-width="1.6" />
<line x1="541.6" y1="274.2" x2="546" y2="274.2" stroke="#000" stroke-width="1.6" />
<text x="556.5" y="279.1" font-size="14">AAAAAA</text>
<defs><radialGradient id="erg" cx="0.42" cy="0.55" r="0.5" gradientTransform="translate(0.42 0.55) scale(1 2.2) translate(-0.42 -0.55)"><stop offset="0" stop-color="#eeeeee"/><stop offset="0.55" stop-color="#e2e2e2"/><stop offset="1" stop-color="#c9c9c9"/></radialGradient></defs>
<rect x="473.3" y="538.2" width="166.3" height="34.5" rx="17.2" fill="url(#erg)" stroke="#555" stroke-width="0.9"/>
<circle cx="500.9" cy="563" r="6.6" fill="#a0a0a0" stroke="#6e6e6e" stroke-width="0.8"/>
<circle cx="544.3" cy="563" r="6.6" fill="#a0a0a0" stroke="#6e6e6e" stroke-width="0.8"/>
<circle cx="579.9" cy="563" r="6.6" fill="#a0a0a0" stroke="#6e6e6e" stroke-width="0.8"/>
<circle cx="601.7" cy="563" r="6.6" fill="#a0a0a0" stroke="#6e6e6e" stroke-width="0.8"/>
<rect x="508.2" y="579.6" width="105.3" height="20.2" rx="10.1" fill="#f6f6f6" stroke="#444" stroke-width="0.9"/>
<rect x="494.5" y="601.9" width="102.2" height="20.2" rx="10.1" fill="#f6f6f6" stroke="#444" stroke-width="0.9"/>
<rect x="512.4" y="623.2" width="101.1" height="20.7" rx="10.35" fill="#f6f6f6" stroke="#444" stroke-width="0.9"/>
<circle cx="534" cy="590.4" r="6.6" fill="#a0a0a0" stroke="#6e6e6e" stroke-width="0.8"/>
<circle cx="577.6" cy="590.4" r="6.6" fill="#a0a0a0" stroke="#6e6e6e" stroke-width="0.8"/>
<circle cx="599" cy="590.4" r="6.6" fill="#a0a0a0" stroke="#6e6e6e" stroke-width="0.8"/>
<circle cx="512.4" cy="612.2" r="6.6" fill="#a0a0a0" stroke="#6e6e6e" stroke-width="0.8"/>
<circle cx="556" cy="612.2" r="6.6" fill="#a0a0a0" stroke="#6e6e6e" stroke-width="0.8"/>
<circle cx="577.6" cy="612.2" r="6.6" fill="#a0a0a0" stroke="#6e6e6e" stroke-width="0.8"/>
<circle cx="534" cy="634" r="6.6" fill="#a0a0a0" stroke="#6e6e6e" stroke-width="0.8"/>
<circle cx="556" cy="634" r="6.6" fill="#a0a0a0" stroke="#6e6e6e" stroke-width="0.8"/>
<circle cx="599" cy="634" r="6.6" fill="#a0a0a0" stroke="#6e6e6e" stroke-width="0.8"/>
<ellipse cx="489.8" cy="638.8" rx="13.7" ry="9.8" fill="#f6f6f6" stroke="#444" stroke-width="0.9"/>
<circle cx="488.7" cy="640.5" r="6.6" fill="#a0a0a0" stroke="#6e6e6e" stroke-width="0.8"/>
<circle cx="760.6" cy="248.5" r="6.6" fill="#a0a0a0" stroke="#6e6e6e" stroke-width="0.8"/>
<circle cx="768.8" cy="264.7" r="6.6" fill="#a0a0a0" stroke="#6e6e6e" stroke-width="0.8"/>
<circle cx="774.7" cy="280.1" r="6.6" fill="#a0a0a0" stroke="#6e6e6e" stroke-width="0.8"/>
<circle cx="782.4" cy="299.9" r="6.6" fill="#a0a0a0" stroke="#6e6e6e" stroke-width="0.8"/>
<circle cx="791.4" cy="316.8" r="6.6" fill="#a0a0a0" stroke="#6e6e6e" stroke-width="0.8"/>
<circle cx="813.7" cy="319.9" r="6.6" fill="#a0a0a0" stroke="#6e6e6e" stroke-width="0.8"/>
<circle cx="831.7" cy="334.8" r="6.6" fill="#a0a0a0" stroke="#6e6e6e" stroke-width="0.8"/>
<circle cx="840.2" cy="355.9" r="6.6" fill="#a0a0a0" stroke="#6e6e6e" stroke-width="0.8"/>
<circle cx="835.6" cy="378.5" r="6.6" fill="#a0a0a0" stroke="#6e6e6e" stroke-width="0.8"/>
<circle cx="821.7" cy="395.7" r="6.6" fill="#a0a0a0" stroke="#6e6e6e" stroke-width="0.8"/>
<circle cx="800.4" cy="404.7" r="6.6" fill="#a0a0a0" stroke="#6e6e6e" stroke-width="0.8"/>
<circle cx="800.9" cy="421.9" r="6.6" fill="#a0a0a0" stroke="#6e6e6e" stroke-width="0.8"/>
<circle cx="799.6" cy="439" r="6.6" fill="#a0a0a0" stroke="#6e6e6e" stroke-width="0.8"/>
<circle cx="796.5" cy="457.2" r="6.6" fill="#a0a0a0" stroke="#6e6e6e" stroke-width="0.8"/>
<circle cx="799.6" cy="473" r="6.6" fill="#a0a0a0" stroke="#6e6e6e" stroke-width="0.8"/>
<circle cx="811.1" cy="487.1" r="6.6" fill="#a0a0a0" stroke="#6e6e6e" stroke-width="0.8"/>
<circle cx="814.2" cy="505.9" r="6.6" fill="#a0a0a0" stroke="#6e6e6e" stroke-width="0.8"/>
<circle cx="811.3" cy="525.4" r="6.6" fill="#a0a0a0" stroke="#6e6e6e" stroke-width="0.8"/>
<circle cx="800.9" cy="541.2" r="6.6" fill="#a0a0a0" stroke="#6e6e6e" stroke-width="0.8"/>
<circle cx="783.8" cy="549.7" r="6.6" fill="#a0a0a0" stroke="#6e6e6e" stroke-width="0.8"/>
<circle cx="763.9" cy="552.3" r="6.6" fill="#a0a0a0" stroke="#6e6e6e" stroke-width="0.8"/>
<circle cx="753.5" cy="566.5" r="6.6" fill="#a0a0a0" stroke="#6e6e6e" stroke-width="0.8"/>
<circle cx="745.9" cy="580.7" r="6.6" fill="#a0a0a0" stroke="#6e6e6e" stroke-width="0.8"/>
<circle cx="736.9" cy="593.9" r="6.6" fill="#a0a0a0" stroke="#6e6e6e" stroke-width="0.8"/>
<circle cx="727.4" cy="607.2" r="6.6" fill="#a0a0a0" stroke="#6e6e6e" stroke-width="0.8"/>
<circle cx="724.8" cy="626.1" r="6.6" fill="#a0a0a0" stroke="#6e6e6e" stroke-width="0.8"/>
<circle cx="713.8" cy="641.2" r="6.6" fill="#a0a0a0" stroke="#6e6e6e" stroke-width="0.8"/>
<circle cx="697.7" cy="652" r="6.6" fill="#a0a0a0" stroke="#6e6e6e" stroke-width="0.8"/>
<circle cx="676.3" cy="655.8" r="6.6" fill="#a0a0a0" stroke="#6e6e6e" stroke-width="0.8"/>
<circle cx="661.8" cy="666.4" r="6.6" fill="#a0a0a0" stroke="#6e6e6e" stroke-width="0.8"/>
<circle cx="647.6" cy="674.3" r="6.6" fill="#a0a0a0" stroke="#6e6e6e" stroke-width="0.8"/>
<circle cx="633" cy="684.9" r="6.6" fill="#a0a0a0" stroke="#6e6e6e" stroke-width="0.8"/>
<circle cx="619.5" cy="692.6" r="6.6" fill="#a0a0a0" stroke="#6e6e6e" stroke-width="0.8"/>
<circle cx="603.8" cy="698" r="6.6" fill="#a0a0a0" stroke="#6e6e6e" stroke-width="0.8"/>
<circle cx="588.5" cy="705.2" r="6.6" fill="#a0a0a0" stroke="#6e6e6e" stroke-width="0.8"/>
<circle cx="572.7" cy="712.4" r="6.6" fill="#a0a0a0" stroke="#6e6e6e" stroke-width="0.8"/>
<circle cx="556.5" cy="716.4" r="6.6" fill="#a0a0a0" stroke="#6e6e6e" stroke-width="0.8"/>
<circle cx="540.7" cy="719.5" r="6.6" fill="#a0a0a0" stroke="#6e6e6e" stroke-width="0.8"/>
<circle cx="521.8" cy="720.9" r="6.6" fill="#a0a0a0" stroke="#6e6e6e" stroke-width="0.8"/>
<circle cx="504.3" cy="723.2" r="6.6" fill="#a0a0a0" stroke="#6e6e6e" stroke-width="0.8"/>
<circle cx="845.3" cy="417.6" r="6.6" fill="#a0a0a0" stroke="#6e6e6e" stroke-width="0.8"/>
<circle cx="870.6" cy="376.8" r="6.6" fill="#a0a0a0" stroke="#6e6e6e" stroke-width="0.8"/>
<circle cx="856.9" cy="481.4" r="6.6" fill="#a0a0a0" stroke="#6e6e6e" stroke-width="0.8"/>
<circle cx="923.1" cy="471.7" r="6.6" fill="#a0a0a0" stroke="#6e6e6e" stroke-width="0.8"/>
<circle cx="835" cy="533.5" r="6.6" fill="#a0a0a0" stroke="#6e6e6e" stroke-width="0.8"/>
<circle cx="886.6" cy="532.5" r="6.6" fill="#a0a0a0" stroke="#6e6e6e" stroke-width="0.8"/>
<circle cx="929" cy="525.2" r="6.6" fill="#a0a0a0" stroke="#6e6e6e" stroke-width="0.8"/>
<circle cx="835" cy="571.4" r="6.6" fill="#a0a0a0" stroke="#6e6e6e" stroke-width="0.8"/>
<circle cx="904.6" cy="580.2" r="6.6" fill="#a0a0a0" stroke="#6e6e6e" stroke-width="0.8"/>
<circle cx="877.9" cy="606.5" r="6.6" fill="#a0a0a0" stroke="#6e6e6e" stroke-width="0.8"/>
<circle cx="916.9" cy="251" r="6.6" fill="#a0a0a0" stroke="#6e6e6e" stroke-width="0.8"/>
<circle cx="767" cy="293" r="3.5"/>
<circle cx="769.5" cy="302" r="3.5"/>
<circle cx="772.1" cy="310.2" r="3.5"/>
<circle cx="774.7" cy="318.6" r="3.5"/>
<circle cx="778" cy="326.4" r="3.5"/>
<circle cx="786.4" cy="333.5" r="3.5"/>
<circle cx="793.4" cy="331.4" r="3.5"/>
<circle cx="801" cy="332.1" r="3.5"/>
<circle cx="807.4" cy="334.1" r="3.5"/>
<circle cx="813.9" cy="337.8" r="3.5"/>
<circle cx="819.1" cy="343.3" r="3.5"/>
<circle cx="822.6" cy="349.2" r="3.5"/>
<circle cx="824.8" cy="357.3" r="3.5"/>
<circle cx="824.8" cy="364.9" r="3.5"/>
<circle cx="822.6" cy="371.9" r="3.5"/>
<circle cx="818.8" cy="377.9" r="3.5"/>
<circle cx="812.9" cy="382.5" r="3.5"/>
<circle cx="806.9" cy="386.2" r="3.5"/>
<circle cx="799.9" cy="387.9" r="3.5"/>
<circle cx="792.8" cy="387.6" r="3.5"/>
<circle cx="785.8" cy="393.8" r="3.5"/>
<circle cx="785.5" cy="402.4" r="3.5"/>
<circle cx="785" cy="411" r="3.5"/>
<circle cx="784.5" cy="419.5" r="3.5"/>
<circle cx="784.3" cy="428" r="3.5"/>
<circle cx="783.8" cy="436.5" r="3.5"/>
<circle cx="782.6" cy="445" r="3.5"/>
<circle cx="781.4" cy="453.6" r="3.5"/>
<circle cx="780.2" cy="462.8" r="3.5"/>
<circle cx="778.3" cy="470.7" r="3.5"/>
<circle cx="781.8" cy="481.7" r="3.5"/>
<circle cx="788.1" cy="485.7" r="3.5"/>
<circle cx="792.7" cy="490.3" r="3.5"/>
<circle cx="797.3" cy="496.3" r="3.5"/>
<circle cx="799.9" cy="503.5" r="3.5"/>
<circle cx="800.5" cy="511" r="3.5"/>
<circle cx="799" cy="518.1" r="3.5"/>
<circle cx="795.6" cy="524.8" r="3.5"/>
<circle cx="790.4" cy="530.5" r="3.5"/>
<circle cx="784.1" cy="534" r="3.5"/>
<circle cx="777" cy="536" r="3.5"/>
<circle cx="770.1" cy="536.8" r="3.5"/>
<circle cx="763.4" cy="534.5" r="3.5"/>
<circle cx="751.9" cy="539.7" r="3.5"/>
<circle cx="747.3" cy="546.6" r="3.5"/>
<circle cx="742.2" cy="554.8" r="3.5"/>
<circle cx="737.4" cy="562.3" r="3.5"/>
<circle cx="734.6" cy="569.3" r="3.5"/>
<circle cx="730.4" cy="576.5" r="3.5"/>
<circle cx="726.1" cy="583.9" r="3.5"/>
<circle cx="721" cy="591.1" r="3.5"/>
<circle cx="715.1" cy="597.1" r="3.5"/>
<circle cx="711.8" cy="609.9" r="3.5"/>
<circle cx="710.9" cy="617.4" r="3.5"/>
<circle cx="708" cy="624.5" r="3.5"/>
<circle cx="703.3" cy="630.7" r="3.5"/>
<circle cx="697.2" cy="635.4" r="3.5"/>
<circle cx="690.1" cy="637.8" r="3.5"/>
<circle cx="683" cy="638.2" r="3.5"/>
<circle cx="673.7" cy="639.7" r="3.5"/>
<circle cx="666.9" cy="644.9" r="3.5"/>
<circle cx="658.9" cy="650.7" r="3.5"/>
<circle cx="652.3" cy="655.4" r="3.5"/>
<circle cx="646.6" cy="661.1" r="3.5"/>
<circle cx="638.4" cy="666" r="3.5"/>
<circle cx="630.8" cy="670" r="3.5"/>
<circle cx="623.1" cy="673.7" r="3.5"/>
<circle cx="615" cy="677.7" r="3.5"/>
<circle cx="606" cy="682.2" r="3.5"/>
<circle cx="597.4" cy="687.2" r="3.5"/>
<circle cx="761.8" cy="303.2" r="3.4" fill="#fff" stroke="#000" stroke-width="0.7"/>
<circle cx="795" cy="338.2" r="3.4" fill="#fff" stroke="#000" stroke-width="0.7"/>
<circle cx="817.7" cy="358.7" r="3.4" fill="#fff" stroke="#000" stroke-width="0.7"/>
<circle cx="798.8" cy="381.6" r="3.4" fill="#fff" stroke="#000" stroke-width="0.7"/>
<circle cx="776" cy="435.3" r="3.4" fill="#fff" stroke="#000" stroke-width="0.7"/>
<circle cx="790.4" cy="515" r="3.4" fill="#fff" stroke="#000" stroke-width="0.7"/>
<circle cx="752" cy="565" r="3.4" fill="#fff" stroke="#000" stroke-width="0.7"/>
<circle cx="714.7" cy="586.3" r="3.4" fill="#fff" stroke="#000" stroke-width="0.7"/>
<circle cx="689.1" cy="630.7" r="3.4" fill="#fff" stroke="#000" stroke-width="0.7"/>
<line x1="785.3" y1="354.4" x2="813.9" y2="361.6" stroke="#000" stroke-width="1.3" />
<line x1="786.9" y1="364.3" x2="812.3" y2="352.2" stroke="#000" stroke-width="1.3" />
<circle cx="705" cy="423.8" r="3.5"/>
<circle cx="705" cy="442" r="3.5"/>
<circle cx="683.8" cy="448.3" r="3.5"/>
<circle cx="724.5" cy="450.5" r="3.5"/>
<circle cx="671.3" cy="467" r="3.5"/>
<circle cx="698" cy="465" r="3.5"/>
<circle cx="721.3" cy="462.5" r="3.5"/>
<circle cx="682.5" cy="480.8" r="3.5"/>
<circle cx="698.8" cy="487.5" r="3.5"/>
<circle cx="700.5" cy="430" r="3.4" fill="#fff" stroke="#000" stroke-width="0.7"/>
<circle cx="708" cy="449.5" r="3.4" fill="#fff" stroke="#000" stroke-width="0.7"/>
<line x1="110.5" y1="97" x2="141.55" y2="120.2" stroke="#000" stroke-width="2.6"/>
<polygon points="157.2,132.4 147.4,112.4 135.7,128"/>
<line x1="182.3" y1="203.2" x2="171.55" y2="227.3" stroke="#000" stroke-width="2.4"/>
<polygon points="162.6,244.4 163,223.2 180.1,231.4"/>
<line x1="136" y1="339.8" x2="133.15" y2="354.65" stroke="#000" stroke-width="2.7"/>
<polygon points="129.9,373.9 123.2,352.3 143.1,357"/>
<line x1="190.9" y1="333.5" x2="202.25" y2="364.95" stroke="#000" stroke-width="2.8"/>
<polygon points="208.8,383.6 192.8,368.5 211.7,361.4"/>
<line x1="238.1" y1="448.1" x2="247.45" y2="465.95" stroke="#000" stroke-width="2.8"/>
<polygon points="256.8,483 238.9,470 256,461.9"/>
<line x1="282.4" y1="555.9" x2="301.35" y2="582.8" stroke="#000" stroke-width="2.8"/>
<polygon points="312.4,598.4 293.8,588.3 308.9,577.3"/>
<line x1="375" y1="578" x2="381.75" y2="380.25" stroke="#000" stroke-width="3"/>
<polygon points="381.4,363.2 371.9,380 391.6,380.5"/>
<line x1="389.4" y1="279.2" x2="418.1" y2="262.4" stroke="#000" stroke-width="2.6"/>
<polygon points="433.4,255.4 413.2,252.6 423,272.2"/>
<line x1="555" y1="375" x2="562.5" y2="471.3" stroke="#000" stroke-width="3"/>
<polygon points="562.5,490 553,471.3 572,471.3"/>
<line x1="560" y1="499.2" x2="547.3" y2="517" stroke="#000" stroke-width="3"/>
<polygon points="537,530.9 539.3,511.8 555.3,522.2"/>
<line x1="603.8" y1="476.3" x2="625.9" y2="471.5" stroke="#000" stroke-width="3.2"/>
<polygon points="643.8,467.5 623,463 628.8,480"/>
<line x1="861.6" y1="294.1" x2="884.15" y2="271.6" stroke="#000" stroke-width="2.8"/>
<polygon points="898.4,257.6 877,264.9 891.3,278.3"/>
<line x1="902.2" y1="172.3" x2="881.55" y2="152.95" stroke="#000" stroke-width="2.8"/>
<polygon points="868.9,140.5 873.4,160.4 889.7,145.5"/>
<line x1="319" y1="68.1" x2="338.25" y2="85.35" stroke="#000" stroke-width="1.5"/>
<polygon points="349,96.7 334.7,88.3 341.8,82.4"/>
<line x1="617.7" y1="54" x2="599.5" y2="88.5" stroke="#000" stroke-width="1.5"/>
<polygon points="597.8,103.2 594,87 605,90"/>
<path d="M489.5,657 L498.5,657 C499,675 508,688 526,696 L522,704 C500,695 489,680 489.5,657 Z"/>
<polygon points="548.4,704.2 516.9,681.3 510.6,711.9"/>
<circle cx="269.5" cy="209.7" r="13.5" fill="#fff" stroke="#000" stroke-width="2.9"/>
<text x="269.5" y="216.7" font-size="20" font-weight="bold" text-anchor="middle">1</text>
<circle cx="225.2" cy="285" r="13.5" fill="#fff" stroke="#000" stroke-width="2.9"/>
<text x="225.2" y="292" font-size="20" font-weight="bold" text-anchor="middle">2</text>
<circle cx="232.8" cy="359.5" r="13.5" fill="#fff" stroke="#000" stroke-width="2.9"/>
<text x="232.8" y="366.5" font-size="20" font-weight="bold" text-anchor="middle">3</text>
<circle cx="264.4" cy="445.7" r="13.5" fill="#fff" stroke="#000" stroke-width="2.9"/>
<text x="264.4" y="452.7" font-size="20" font-weight="bold" text-anchor="middle">4</text>
<circle cx="318.9" cy="551.3" r="13.5" fill="#fff" stroke="#000" stroke-width="2.9"/>
<text x="318.9" y="558.3" font-size="20" font-weight="bold" text-anchor="middle">4</text>
<circle cx="399.9" cy="452.4" r="13.5" fill="#fff" stroke="#000" stroke-width="2.9"/>
<text x="399.9" y="459.4" font-size="20" font-weight="bold" text-anchor="middle">5</text>
<circle cx="363.7" cy="304.1" r="13.5" fill="#fff" stroke="#000" stroke-width="2.9"/>
<text x="363.7" y="311.1" font-size="20" font-weight="bold" text-anchor="middle">6</text>
<circle cx="638.1" cy="249.9" r="13.5" fill="#fff" stroke="#000" stroke-width="2.9"/>
<text x="638.1" y="256.9" font-size="20" font-weight="bold" text-anchor="middle">7</text>
<circle cx="576.5" cy="512" r="13.5" fill="#fff" stroke="#000" stroke-width="2.9"/>
<text x="576.5" y="519" font-size="20" font-weight="bold" text-anchor="middle">8</text>
<circle cx="654.5" cy="452" r="13.5" fill="#fff" stroke="#000" stroke-width="2.9"/>
<text x="654.5" y="459" font-size="20" font-weight="bold" text-anchor="middle">9</text>
<circle cx="893.2" cy="305.7" r="13.5" fill="#fff" stroke="#000" stroke-width="2.9"/>
<text x="893.2" y="312.7" font-size="20" font-weight="bold" text-anchor="middle" textLength="23.5" lengthAdjust="spacingAndGlyphs">10</text>
<circle cx="905.2" cy="124.7" r="13.5" fill="#fff" stroke="#000" stroke-width="2.9"/>
<text x="905.2" y="131.7" font-size="20" font-weight="bold" text-anchor="middle" textLength="23.5" lengthAdjust="spacingAndGlyphs">11</text>
<circle cx="955.7" cy="509.1" r="13.5" fill="#fff" stroke="#000" stroke-width="2.9"/>
<text x="955.7" y="516.1" font-size="20" font-weight="bold" text-anchor="middle" textLength="23.5" lengthAdjust="spacingAndGlyphs">12</text>
<text x="240" y="41.6" font-size="20.3" font-weight="bold">Chemokine</text>
<text x="240" y="61.7" font-size="20.3" font-weight="bold">coreceptor</text>
<text x="597.8" y="43.7" font-size="20.3" font-weight="bold">CD4</text>
<text x="417" y="527.3" font-size="20.3" font-weight="bold">Envelope</text>
<text x="707" y="380.9" font-size="17.9" font-weight="bold">Gag/</text>
<text x="696" y="398.3" font-size="17.9" font-weight="bold">GagPol</text>
</svg></body></html>
